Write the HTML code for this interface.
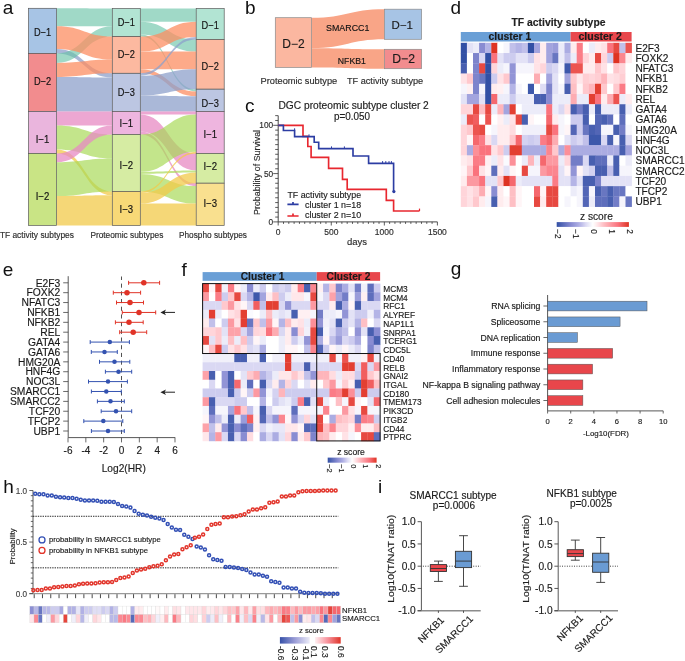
<!DOCTYPE html>
<html><head><meta charset="utf-8"><style>
html,body{margin:0;padding:0;background:#fff;width:685px;height:661px;overflow:hidden}
svg{display:block;will-change:transform}
svg text{stroke:#1a1a1a;stroke-width:0.15px}
</style></head><body>
<svg width="685" height="661" viewBox="0 0 685 661" shape-rendering="geometricPrecision">
<rect width="685" height="661" fill="#fff"/>
<path d="M56.5,49.0 C84.4,49.0 84.4,73.3 112.3,73.3 L112.3,77.5 C84.4,77.5 84.4,53.4 56.5,53.4 Z" fill="#8da0cb" fill-opacity="0.75"/>
<path d="M56.5,77.0 C84.4,77.0 84.4,77.5 112.3,77.5 L112.3,111.4 C84.4,111.4 84.4,111.4 56.5,111.4 Z" fill="#8da0cb" fill-opacity="0.75"/>
<path d="M56.5,8.3 C84.4,8.3 84.4,8.5 112.3,8.5 L112.3,26.3 C84.4,26.3 84.4,26.3 56.5,26.3 Z" fill="#66c2a5" fill-opacity="0.62"/>
<path d="M56.5,53.4 C84.4,53.4 84.4,26.3 112.3,26.3 L112.3,36.6 C84.4,36.6 84.4,63.0 56.5,63.0 Z" fill="#66c2a5" fill-opacity="0.62"/>
<path d="M56.5,26.3 C84.4,26.3 84.4,36.6 112.3,36.6 L112.3,59.6 C84.4,59.6 84.4,49.0 56.5,49.0 Z" fill="#fc8d62" fill-opacity="0.75"/>
<path d="M56.5,63.0 C84.4,63.0 84.4,59.6 112.3,59.6 L112.3,73.3 C84.4,73.3 84.4,77.0 56.5,77.0 Z" fill="#fc8d62" fill-opacity="0.75"/>
<path d="M56.5,111.4 C84.4,111.4 84.4,111.6 112.3,111.6 L112.3,125.4 C84.4,125.4 84.4,125.4 56.5,125.4 Z" fill="#e78ac3" fill-opacity="0.75"/>
<path d="M56.5,125.4 C84.4,125.4 84.4,134.4 112.3,134.4 L112.3,158.5 C84.4,158.5 84.4,149.5 56.5,149.5 Z" fill="#a6d854" fill-opacity="0.68"/>
<path d="M56.5,149.5 C84.4,149.5 84.4,191.4 112.3,191.4 L112.3,195.3 C84.4,195.3 84.4,153.4 56.5,153.4 Z" fill="#f2c94a" fill-opacity="0.75"/>
<path d="M56.5,153.4 C84.4,153.4 84.4,125.4 112.3,125.4 L112.3,134.4 C84.4,134.4 84.4,162.2 56.5,162.2 Z" fill="#e78ac3" fill-opacity="0.75"/>
<path d="M56.5,162.2 C84.4,162.2 84.4,158.5 112.3,158.5 L112.3,191.4 C84.4,191.4 84.4,196.0 56.5,196.0 Z" fill="#a6d854" fill-opacity="0.68"/>
<path d="M56.5,196.0 C84.4,196.0 84.4,195.3 112.3,195.3 L112.3,225.5 C84.4,225.5 84.4,225.4 56.5,225.4 Z" fill="#f2c94a" fill-opacity="0.75"/>
<path d="M140.3,8.5 C168.25,8.5 168.25,8.5 196.2,8.5 L196.2,21.7 C168.25,21.7 168.25,21.7 140.3,21.7 Z" fill="#66c2a5" fill-opacity="0.62"/>
<path d="M140.3,21.7 C168.25,21.7 168.25,39.5 196.2,39.5 L196.2,51.6 C168.25,51.6 168.25,34.4 140.3,34.4 Z" fill="#66c2a5" fill-opacity="0.62"/>
<path d="M140.3,34.4 C168.25,34.4 168.25,89.2 196.2,89.2 L196.2,91.5 C168.25,91.5 168.25,36.6 140.3,36.6 Z" fill="#66c2a5" fill-opacity="0.62"/>
<path d="M140.3,36.6 C168.25,36.6 168.25,21.7 196.2,21.7 L196.2,37.1 C168.25,37.1 168.25,51.6 140.3,51.6 Z" fill="#fc8d62" fill-opacity="0.75"/>
<path d="M140.3,51.6 C168.25,51.6 168.25,51.6 196.2,51.6 L196.2,69.2 C168.25,69.2 168.25,69.3 140.3,69.3 Z" fill="#fc8d62" fill-opacity="0.75"/>
<path d="M140.3,69.3 C168.25,69.3 168.25,91.5 196.2,91.5 L196.2,96.3 C168.25,96.3 168.25,73.3 140.3,73.3 Z" fill="#fc8d62" fill-opacity="0.75"/>
<path d="M140.3,73.3 C168.25,73.3 168.25,37.1 196.2,37.1 L196.2,39.5 C168.25,39.5 168.25,75.7 140.3,75.7 Z" fill="#8da0cb" fill-opacity="0.75"/>
<path d="M140.3,75.7 C168.25,75.7 168.25,69.2 196.2,69.2 L196.2,89.2 C168.25,89.2 168.25,95.5 140.3,95.5 Z" fill="#8da0cb" fill-opacity="0.75"/>
<path d="M140.3,95.5 C168.25,95.5 168.25,96.3 196.2,96.3 L196.2,111.6 C168.25,111.6 168.25,111.4 140.3,111.4 Z" fill="#8da0cb" fill-opacity="0.75"/>
<path d="M140.3,111.6 C168.25,111.6 168.25,111.6 196.2,111.6 L196.2,114.4 C168.25,114.4 168.25,114.4 140.3,114.4 Z" fill="#e78ac3" fill-opacity="0.75"/>
<path d="M140.3,114.4 C168.25,114.4 168.25,153.4 196.2,153.4 L196.2,170.5 C168.25,170.5 168.25,131.5 140.3,131.5 Z" fill="#e78ac3" fill-opacity="0.75"/>
<path d="M140.3,131.5 C168.25,131.5 168.25,183.2 196.2,183.2 L196.2,186.1 C168.25,186.1 168.25,134.4 140.3,134.4 Z" fill="#e78ac3" fill-opacity="0.75"/>
<path d="M140.3,134.4 C168.25,134.4 168.25,114.4 196.2,114.4 L196.2,151.8 C168.25,151.8 168.25,171.8 140.3,171.8 Z" fill="#a6d854" fill-opacity="0.68"/>
<path d="M140.3,171.8 C168.25,171.8 168.25,170.5 196.2,170.5 L196.2,172.6 C168.25,172.6 168.25,173.9 140.3,173.9 Z" fill="#a6d854" fill-opacity="0.68"/>
<path d="M140.3,173.9 C168.25,173.9 168.25,186.1 196.2,186.1 L196.2,203.6 C168.25,203.6 168.25,191.4 140.3,191.4 Z" fill="#a6d854" fill-opacity="0.68"/>
<path d="M140.3,191.4 C168.25,191.4 168.25,151.8 196.2,151.8 L196.2,153.4 C168.25,153.4 168.25,193.0 140.3,193.0 Z" fill="#f2c94a" fill-opacity="0.75"/>
<path d="M140.3,193.0 C168.25,193.0 168.25,172.6 196.2,172.6 L196.2,183.2 C168.25,183.2 168.25,203.7 140.3,203.7 Z" fill="#f2c94a" fill-opacity="0.75"/>
<path d="M140.3,203.7 C168.25,203.7 168.25,203.6 196.2,203.6 L196.2,225.5 C168.25,225.5 168.25,225.5 140.3,225.5 Z" fill="#f2c94a" fill-opacity="0.75"/>
<rect x="28.5" y="8.3" width="28.0" height="45.10" fill="#a7c4e5" stroke="#5a5a5a" stroke-width="0.7"/>
<text transform="translate(42.5,36.30) scale(1,1.13)" font-size="9.9" text-anchor="middle" fill="#111" stroke="#111" stroke-width="0.2" font-family="Liberation Sans" textLength="17.2" lengthAdjust="spacingAndGlyphs">D−1</text>
<rect x="28.5" y="53.4" width="28.0" height="58.00" fill="#f28c8e" stroke="#5a5a5a" stroke-width="0.7"/>
<text transform="translate(42.5,85.30) scale(1,1.13)" font-size="9.9" text-anchor="middle" fill="#111" stroke="#111" stroke-width="0.2" font-family="Liberation Sans" textLength="17.2" lengthAdjust="spacingAndGlyphs">D−2</text>
<rect x="28.5" y="111.4" width="28.0" height="42.00" fill="#eab5dd" stroke="#5a5a5a" stroke-width="0.7"/>
<text transform="translate(42.5,142.50) scale(1,1.13)" font-size="9.9" text-anchor="middle" fill="#111" stroke="#111" stroke-width="0.2" font-family="Liberation Sans" textLength="13.6" lengthAdjust="spacingAndGlyphs">I−1</text>
<rect x="28.5" y="153.4" width="28.0" height="72.00" fill="#c9e485" stroke="#5a5a5a" stroke-width="0.7"/>
<text transform="translate(42.5,199.90) scale(1,1.13)" font-size="9.9" text-anchor="middle" fill="#111" stroke="#111" stroke-width="0.2" font-family="Liberation Sans" textLength="13.6" lengthAdjust="spacingAndGlyphs">I−2</text>
<rect x="112.3" y="8.5" width="28.0" height="28.10" fill="#b2e4d3" stroke="#5a5a5a" stroke-width="0.7"/>
<text transform="translate(126.3,25.50) scale(1,1.13)" font-size="9.9" text-anchor="middle" fill="#111" stroke="#111" stroke-width="0.2" font-family="Liberation Sans" textLength="17.2" lengthAdjust="spacingAndGlyphs">D−1</text>
<rect x="112.3" y="36.6" width="28.0" height="36.70" fill="#fcb9a0" stroke="#5a5a5a" stroke-width="0.7"/>
<text transform="translate(126.3,58.40) scale(1,1.13)" font-size="9.9" text-anchor="middle" fill="#111" stroke="#111" stroke-width="0.2" font-family="Liberation Sans" textLength="17.2" lengthAdjust="spacingAndGlyphs">D−2</text>
<rect x="112.3" y="73.3" width="28.0" height="38.10" fill="#bcc6e2" stroke="#5a5a5a" stroke-width="0.7"/>
<text transform="translate(126.3,96.00) scale(1,1.13)" font-size="9.9" text-anchor="middle" fill="#111" stroke="#111" stroke-width="0.2" font-family="Liberation Sans" textLength="17.2" lengthAdjust="spacingAndGlyphs">D−3</text>
<rect x="112.3" y="111.4" width="28.0" height="23.00" fill="#eeb5df" stroke="#5a5a5a" stroke-width="0.7"/>
<text transform="translate(126.3,127.20) scale(1,1.13)" font-size="9.9" text-anchor="middle" fill="#111" stroke="#111" stroke-width="0.2" font-family="Liberation Sans" textLength="13.6" lengthAdjust="spacingAndGlyphs">I−1</text>
<rect x="112.3" y="134.4" width="28.0" height="57.00" fill="#d6eca3" stroke="#5a5a5a" stroke-width="0.7"/>
<text transform="translate(126.3,169.00) scale(1,1.13)" font-size="9.9" text-anchor="middle" fill="#111" stroke="#111" stroke-width="0.2" font-family="Liberation Sans" textLength="13.6" lengthAdjust="spacingAndGlyphs">I−2</text>
<rect x="112.3" y="191.4" width="28.0" height="34.10" fill="#f8d977" stroke="#5a5a5a" stroke-width="0.7"/>
<text transform="translate(126.3,213.10) scale(1,1.13)" font-size="9.9" text-anchor="middle" fill="#111" stroke="#111" stroke-width="0.2" font-family="Liberation Sans" textLength="13.6" lengthAdjust="spacingAndGlyphs">I−3</text>
<rect x="196.2" y="8.5" width="28.0" height="31.00" fill="#b2e4d3" stroke="#5a5a5a" stroke-width="0.7"/>
<text transform="translate(210.2,29.30) scale(1,1.13)" font-size="9.9" text-anchor="middle" fill="#111" stroke="#111" stroke-width="0.2" font-family="Liberation Sans" textLength="17.2" lengthAdjust="spacingAndGlyphs">D−1</text>
<rect x="196.2" y="39.5" width="28.0" height="49.70" fill="#fcb9a0" stroke="#5a5a5a" stroke-width="0.7"/>
<text transform="translate(210.2,70.10) scale(1,1.13)" font-size="9.9" text-anchor="middle" fill="#111" stroke="#111" stroke-width="0.2" font-family="Liberation Sans" textLength="17.2" lengthAdjust="spacingAndGlyphs">D−2</text>
<rect x="196.2" y="89.2" width="28.0" height="22.20" fill="#bcc6e2" stroke="#5a5a5a" stroke-width="0.7"/>
<text transform="translate(210.2,106.70) scale(1,1.13)" font-size="9.9" text-anchor="middle" fill="#111" stroke="#111" stroke-width="0.2" font-family="Liberation Sans" textLength="17.2" lengthAdjust="spacingAndGlyphs">D−3</text>
<rect x="196.2" y="111.4" width="28.0" height="42.00" fill="#eeb5df" stroke="#5a5a5a" stroke-width="0.7"/>
<text transform="translate(210.2,137.70) scale(1,1.13)" font-size="9.9" text-anchor="middle" fill="#111" stroke="#111" stroke-width="0.2" font-family="Liberation Sans" textLength="13.6" lengthAdjust="spacingAndGlyphs">I−1</text>
<rect x="196.2" y="153.4" width="28.0" height="29.80" fill="#d6eca3" stroke="#5a5a5a" stroke-width="0.7"/>
<text transform="translate(210.2,169.90) scale(1,1.13)" font-size="9.9" text-anchor="middle" fill="#111" stroke="#111" stroke-width="0.2" font-family="Liberation Sans" textLength="13.6" lengthAdjust="spacingAndGlyphs">I−2</text>
<rect x="196.2" y="183.2" width="28.0" height="42.30" fill="#f9e08f" stroke="#5a5a5a" stroke-width="0.7"/>
<text transform="translate(210.2,207.40) scale(1,1.13)" font-size="9.9" text-anchor="middle" fill="#111" stroke="#111" stroke-width="0.2" font-family="Liberation Sans" textLength="13.6" lengthAdjust="spacingAndGlyphs">I−3</text>
<text x="-0.1" y="238" font-size="8.4" fill="#333" font-family="Liberation Sans" textLength="74" lengthAdjust="spacingAndGlyphs">TF activity subtypes</text>
<text x="90.4" y="238" font-size="8.4" fill="#333" font-family="Liberation Sans" textLength="72.9" lengthAdjust="spacingAndGlyphs">Proteomic subtypes</text>
<text x="179" y="238" font-size="8.4" fill="#333" font-family="Liberation Sans" textLength="68" lengthAdjust="spacingAndGlyphs">Phospho subtypes</text>
<path d="M311.6,17.7 C348.1,17.7 348.1,9.2 384.6,9.2 L384.6,39.3 C348.1,39.3 348.1,48.2 311.6,48.2 Z" fill="#f9a587"/>
<path d="M311.6,48.2 C348.1,48.2 348.1,49.3 384.6,49.3 L384.6,68.7 C348.1,68.7 348.1,67.4 311.6,67.4 Z" fill="#f9a587"/>
<rect x="275.3" y="17.7" width="36.3" height="49.7" fill="#fbb7a0" stroke="#8a8a8a" stroke-width="0.7"/>
<rect x="384.6" y="9.2" width="37" height="30.1" fill="#a7c4e5" stroke="#8a8a8a" stroke-width="0.7"/>
<rect x="384.6" y="49.3" width="37" height="19.4" fill="#f28c8e" stroke="#8a8a8a" stroke-width="0.7"/>
<text x="293.5" y="47.9" font-size="12" text-anchor="middle" fill="#1a1a1a" font-family="Liberation Sans">D−2</text>
<text x="402.3" y="28.6" font-size="11.5" text-anchor="middle" fill="#1a1a1a" font-family="Liberation Sans">D−1</text>
<text x="403.6" y="62.7" font-size="12.2" text-anchor="middle" fill="#1a1a1a" font-family="Liberation Sans">D−2</text>
<text transform="translate(326.0,31.4) scale(1,1.1)" font-size="8.8" fill="#111" stroke="#111" stroke-width="0.12" font-family="Liberation Sans" textLength="43.4" lengthAdjust="spacingAndGlyphs">SMARCC1</text>
<text transform="translate(337.8,64.3) scale(1,1.1)" font-size="8.6" fill="#111" stroke="#111" stroke-width="0.12" font-family="Liberation Sans" textLength="28" lengthAdjust="spacingAndGlyphs">NFKB1</text>
<text x="260.6" y="84.3" font-size="9.2" fill="#333" font-family="Liberation Sans" textLength="76.6" lengthAdjust="spacingAndGlyphs">Proteomic subtype</text>
<text x="347.0" y="84.3" font-size="9.3" fill="#333" font-family="Liberation Sans" textLength="76.2" lengthAdjust="spacingAndGlyphs">TF activity subtype</text>
<text x="278.5" y="108.5" font-size="10" fill="#222" font-family="Liberation Sans" textLength="150.3" lengthAdjust="spacingAndGlyphs">DGC proteomic subtype cluster 2</text>
<text x="334" y="119.7" font-size="10" fill="#222" font-family="Liberation Sans" textLength="36" lengthAdjust="spacingAndGlyphs">p=0.050</text>
<path d="M278.2,115.64 V221.9 H437.40" fill="none" stroke="#333" stroke-width="0.9"/>
<path d="M273.2,221.90 H278.2 M275.2,217.07 H278.2 M275.2,212.24 H278.2 M275.2,207.41 H278.2 M275.2,202.58 H278.2 M275.2,197.75 H278.2 M275.2,192.92 H278.2 M275.2,188.09 H278.2 M275.2,183.26 H278.2 M275.2,178.43 H278.2 M273.2,173.60 H278.2 M275.2,168.77 H278.2 M275.2,163.94 H278.2 M275.2,159.11 H278.2 M275.2,154.28 H278.2 M275.2,149.45 H278.2 M275.2,144.62 H278.2 M275.2,139.79 H278.2 M275.2,134.96 H278.2 M275.2,130.13 H278.2 M273.2,125.30 H278.2 M275.2,120.47 H278.2 M275.2,115.64 H278.2 M278.20,221.9 V225.5 M283.51,221.9 V223.9 M288.81,221.9 V223.9 M294.12,221.9 V223.9 M299.43,221.9 V223.9 M304.73,221.9 V223.9 M310.04,221.9 V223.9 M315.35,221.9 V223.9 M320.65,221.9 V223.9 M325.96,221.9 V223.9 M331.27,221.9 V225.5 M336.57,221.9 V223.9 M341.88,221.9 V223.9 M347.19,221.9 V223.9 M352.49,221.9 V223.9 M357.80,221.9 V223.9 M363.11,221.9 V223.9 M368.41,221.9 V223.9 M373.72,221.9 V223.9 M379.03,221.9 V223.9 M384.33,221.9 V225.5 M389.64,221.9 V223.9 M394.95,221.9 V223.9 M400.25,221.9 V223.9 M405.56,221.9 V223.9 M410.87,221.9 V223.9 M416.17,221.9 V223.9 M421.48,221.9 V223.9 M426.79,221.9 V223.9 M432.09,221.9 V223.9 M437.40,221.9 V225.5" stroke="#333" stroke-width="0.8" fill="none"/>
<text x="273.2" y="128.30" font-size="8.3" text-anchor="end" fill="#333" font-family="Liberation Sans">100</text>
<text x="273.2" y="176.60" font-size="8.3" text-anchor="end" fill="#333" font-family="Liberation Sans">50</text>
<text x="273.2" y="224.90" font-size="8.3" text-anchor="end" fill="#333" font-family="Liberation Sans">0</text>
<text x="278.20" y="235.4" font-size="8.5" text-anchor="middle" fill="#333" font-family="Liberation Sans">0</text>
<text x="331.27" y="235.4" font-size="8.5" text-anchor="middle" fill="#333" font-family="Liberation Sans">500</text>
<text x="384.33" y="235.4" font-size="8.5" text-anchor="middle" fill="#333" font-family="Liberation Sans">1000</text>
<text x="437.40" y="235.4" font-size="8.5" text-anchor="middle" fill="#333" font-family="Liberation Sans">1500</text>
<text x="357.1" y="244.8" font-size="9.5" text-anchor="middle" fill="#333" font-family="Liberation Sans">days</text>
<text transform="translate(260.4,172.4) rotate(-90)" x="0" y="0" font-size="9.1" text-anchor="middle" fill="#333" font-family="Liberation Sans" textLength="85" lengthAdjust="spacingAndGlyphs">Probability of Survival</text>
<path d="M278.2,125.3 H303 V136.3 H307.8 V146.5 H311.1 V157.4 H328.6 V168.4 H342.5 V179.4 H347.2 V189.4 H386.3 V200.4 H393.6 V211 H419.5" fill="none" stroke="#e8272f" stroke-width="1.65"/>
<path d="M278.2,125.3 H283.4 V130.5 H294.6 V136.6 H314.2 V142.2 H318.7 V148.6 H353 V156 H368.6 V163.3 H393.6 V191.9" fill="none" stroke="#2c3da3" stroke-width="1.65"/>
<path d="M294.6,130.5 V128.3 M309,136.6 V134.4 M331.5,148.6 V146.4 M344.4,148.6 V146.4 M382.6,163.3 V161.10000000000002 M385.8,163.3 V161.10000000000002 M389,163.3 V161.10000000000002 M391.4,163.3 V161.10000000000002" stroke="#2c3da3" stroke-width="1" fill="none"/>
<circle cx="393.9" cy="191.6" r="1.6" fill="#2c3da3"/>
<path d="M419.5,211 V208.6" stroke="#e8272f" stroke-width="1.2" fill="none"/>
<text x="287.4" y="197.5" font-size="9.6" fill="#222" font-family="Liberation Sans" textLength="73.7" lengthAdjust="spacingAndGlyphs">TF activity subtype</text>
<path d="M287.4,204.4 H298.6 M293,204.4 V202" stroke="#2c3da3" stroke-width="1.7"/>
<path d="M287.4,216.0 H298.6 M293,216.0 V213.6" stroke="#e8272f" stroke-width="1.7"/>
<text x="305" y="207.7" font-size="9.6" fill="#222" font-family="Liberation Sans" textLength="56.1" lengthAdjust="spacingAndGlyphs">cluster 1 n=18</text>
<text x="305" y="218.3" font-size="9.6" fill="#222" font-family="Liberation Sans" textLength="56.1" lengthAdjust="spacingAndGlyphs">cluster 2 n=10</text>
<text x="558.5" y="25.5" font-size="10.2" font-weight="bold" text-anchor="middle" fill="#222" font-family="Liberation Sans" textLength="94" lengthAdjust="spacingAndGlyphs">TF activity subtype</text>
<rect x="460.8" y="32" width="109.8" height="9.5" fill="#6a9fd6"/>
<rect x="570.6" y="32" width="61.0" height="9.5" fill="#e8474c"/>
<text x="509.9" y="39.8" font-size="10" font-weight="bold" text-anchor="middle" fill="#1a1a1a" font-family="Liberation Sans" textLength="42.6" lengthAdjust="spacingAndGlyphs">cluster 1</text>
<text x="600.1" y="39.8" font-size="10" font-weight="bold" text-anchor="middle" fill="#1a1a1a" font-family="Liberation Sans" textLength="43.3" lengthAdjust="spacingAndGlyphs">cluster 2</text>
<rect x="460.80" y="42.80" width="6.40" height="10.54" fill="#3250a5"/>
<rect x="466.90" y="42.80" width="6.40" height="10.54" fill="#e3e2f6"/>
<rect x="473.00" y="42.80" width="6.40" height="10.54" fill="#ececf9"/>
<rect x="479.10" y="42.80" width="6.40" height="10.54" fill="#898cd2"/>
<rect x="485.20" y="42.80" width="6.40" height="10.54" fill="#b4b4e6"/>
<rect x="491.30" y="42.80" width="6.40" height="10.54" fill="#de3423"/>
<rect x="497.40" y="42.80" width="6.40" height="10.54" fill="#ffffff"/>
<rect x="503.50" y="42.80" width="6.40" height="10.54" fill="#f6f5fc"/>
<rect x="509.60" y="42.80" width="6.40" height="10.54" fill="#c1c0ea"/>
<rect x="515.70" y="42.80" width="6.40" height="10.54" fill="#b4b4e6"/>
<rect x="521.80" y="42.80" width="6.40" height="10.54" fill="#c1c0ea"/>
<rect x="527.90" y="42.80" width="6.40" height="10.54" fill="#3250a5"/>
<rect x="534.00" y="42.80" width="6.40" height="10.54" fill="#a3a4de"/>
<rect x="540.10" y="42.80" width="6.40" height="10.54" fill="#ffecee"/>
<rect x="546.20" y="42.80" width="6.40" height="10.54" fill="#a3a4de"/>
<rect x="552.30" y="42.80" width="6.40" height="10.54" fill="#9a9cda"/>
<rect x="558.40" y="42.80" width="6.40" height="10.54" fill="#ececf9"/>
<rect x="564.50" y="42.80" width="6.40" height="10.54" fill="#abace2"/>
<rect x="570.60" y="42.80" width="6.40" height="10.54" fill="#ffecee"/>
<rect x="576.70" y="42.80" width="6.40" height="10.54" fill="#fb7c86"/>
<rect x="582.80" y="42.80" width="6.40" height="10.54" fill="#ffffff"/>
<rect x="588.90" y="42.80" width="6.40" height="10.54" fill="#ececf9"/>
<rect x="595.00" y="42.80" width="6.40" height="10.54" fill="#ffecee"/>
<rect x="601.10" y="42.80" width="6.40" height="10.54" fill="#ffe2e6"/>
<rect x="607.20" y="42.80" width="6.40" height="10.54" fill="#fa737d"/>
<rect x="613.30" y="42.80" width="6.40" height="10.54" fill="#e74941"/>
<rect x="619.40" y="42.80" width="6.40" height="10.54" fill="#c1c0ea"/>
<rect x="625.50" y="42.80" width="6.40" height="10.54" fill="#ec5450"/>
<text transform="translate(635.4,51.72) scale(1,1.08)" font-size="10.1" fill="#1a1a1a" font-family="Liberation Sans">E2F3</text>
<rect x="460.80" y="53.04" width="6.40" height="10.54" fill="#3250a5"/>
<rect x="466.90" y="53.04" width="6.40" height="10.54" fill="#ffffff"/>
<rect x="473.00" y="53.04" width="6.40" height="10.54" fill="#7e84cc"/>
<rect x="479.10" y="53.04" width="6.40" height="10.54" fill="#dad8f3"/>
<rect x="485.20" y="53.04" width="6.40" height="10.54" fill="#3250a5"/>
<rect x="491.30" y="53.04" width="6.40" height="10.54" fill="#fa737d"/>
<rect x="497.40" y="53.04" width="6.40" height="10.54" fill="#e3e2f6"/>
<rect x="503.50" y="53.04" width="6.40" height="10.54" fill="#cdccef"/>
<rect x="509.60" y="53.04" width="6.40" height="10.54" fill="#cdccef"/>
<rect x="515.70" y="53.04" width="6.40" height="10.54" fill="#e3e2f6"/>
<rect x="521.80" y="53.04" width="6.40" height="10.54" fill="#e3e2f6"/>
<rect x="527.90" y="53.04" width="6.40" height="10.54" fill="#cdccef"/>
<rect x="534.00" y="53.04" width="6.40" height="10.54" fill="#ffe2e6"/>
<rect x="540.10" y="53.04" width="6.40" height="10.54" fill="#ffecee"/>
<rect x="546.20" y="53.04" width="6.40" height="10.54" fill="#a3a4de"/>
<rect x="552.30" y="53.04" width="6.40" height="10.54" fill="#6876c1"/>
<rect x="558.40" y="53.04" width="6.40" height="10.54" fill="#ececf9"/>
<rect x="564.50" y="53.04" width="6.40" height="10.54" fill="#c1c0ea"/>
<rect x="570.60" y="53.04" width="6.40" height="10.54" fill="#ececf9"/>
<rect x="576.70" y="53.04" width="6.40" height="10.54" fill="#fb7c86"/>
<rect x="582.80" y="53.04" width="6.40" height="10.54" fill="#ffd5da"/>
<rect x="588.90" y="53.04" width="6.40" height="10.54" fill="#ffecee"/>
<rect x="595.00" y="53.04" width="6.40" height="10.54" fill="#e74941"/>
<rect x="601.10" y="53.04" width="6.40" height="10.54" fill="#ffd5da"/>
<rect x="607.20" y="53.04" width="6.40" height="10.54" fill="#cdccef"/>
<rect x="613.30" y="53.04" width="6.40" height="10.54" fill="#de3423"/>
<rect x="619.40" y="53.04" width="6.40" height="10.54" fill="#fb868f"/>
<rect x="625.50" y="53.04" width="6.40" height="10.54" fill="#ffecee"/>
<text transform="translate(635.4,61.96) scale(1,1.08)" font-size="10.1" fill="#1a1a1a" font-family="Liberation Sans">FOXK2</text>
<rect x="460.80" y="63.28" width="6.40" height="10.54" fill="#485fb0"/>
<rect x="466.90" y="63.28" width="6.40" height="10.54" fill="#ffffff"/>
<rect x="473.00" y="63.28" width="6.40" height="10.54" fill="#7e84cc"/>
<rect x="479.10" y="63.28" width="6.40" height="10.54" fill="#e74941"/>
<rect x="485.20" y="63.28" width="6.40" height="10.54" fill="#3250a5"/>
<rect x="491.30" y="63.28" width="6.40" height="10.54" fill="#ffd5da"/>
<rect x="497.40" y="63.28" width="6.40" height="10.54" fill="#ececf9"/>
<rect x="503.50" y="63.28" width="6.40" height="10.54" fill="#f6f5fc"/>
<rect x="509.60" y="63.28" width="6.40" height="10.54" fill="#9294d6"/>
<rect x="515.70" y="63.28" width="6.40" height="10.54" fill="#f6f5fc"/>
<rect x="521.80" y="63.28" width="6.40" height="10.54" fill="#f6f5fc"/>
<rect x="527.90" y="63.28" width="6.40" height="10.54" fill="#f6f5fc"/>
<rect x="534.00" y="63.28" width="6.40" height="10.54" fill="#ffe2e6"/>
<rect x="540.10" y="63.28" width="6.40" height="10.54" fill="#ffd5da"/>
<rect x="546.20" y="63.28" width="6.40" height="10.54" fill="#cdccef"/>
<rect x="552.30" y="63.28" width="6.40" height="10.54" fill="#dad8f3"/>
<rect x="558.40" y="63.28" width="6.40" height="10.54" fill="#f6f5fc"/>
<rect x="564.50" y="63.28" width="6.40" height="10.54" fill="#3d58ab"/>
<rect x="570.60" y="63.28" width="6.40" height="10.54" fill="#ec5450"/>
<rect x="576.70" y="63.28" width="6.40" height="10.54" fill="#ec5450"/>
<rect x="582.80" y="63.28" width="6.40" height="10.54" fill="#ffecee"/>
<rect x="588.90" y="63.28" width="6.40" height="10.54" fill="#ffecee"/>
<rect x="595.00" y="63.28" width="6.40" height="10.54" fill="#ffc8cd"/>
<rect x="601.10" y="63.28" width="6.40" height="10.54" fill="#ffe2e6"/>
<rect x="607.20" y="63.28" width="6.40" height="10.54" fill="#ffffff"/>
<rect x="613.30" y="63.28" width="6.40" height="10.54" fill="#ffc8cd"/>
<rect x="619.40" y="63.28" width="6.40" height="10.54" fill="#ffd5da"/>
<rect x="625.50" y="63.28" width="6.40" height="10.54" fill="#ffffff"/>
<text transform="translate(635.4,72.20) scale(1,1.08)" font-size="10.1" fill="#1a1a1a" font-family="Liberation Sans">NFATC3</text>
<rect x="460.80" y="73.52" width="6.40" height="10.54" fill="#ffe2e6"/>
<rect x="466.90" y="73.52" width="6.40" height="10.54" fill="#ffc8cd"/>
<rect x="473.00" y="73.52" width="6.40" height="10.54" fill="#7e84cc"/>
<rect x="479.10" y="73.52" width="6.40" height="10.54" fill="#6876c1"/>
<rect x="485.20" y="73.52" width="6.40" height="10.54" fill="#3250a5"/>
<rect x="491.30" y="73.52" width="6.40" height="10.54" fill="#cdccef"/>
<rect x="497.40" y="73.52" width="6.40" height="10.54" fill="#ffe2e6"/>
<rect x="503.50" y="73.52" width="6.40" height="10.54" fill="#ffc8cd"/>
<rect x="509.60" y="73.52" width="6.40" height="10.54" fill="#9294d6"/>
<rect x="515.70" y="73.52" width="6.40" height="10.54" fill="#ffffff"/>
<rect x="521.80" y="73.52" width="6.40" height="10.54" fill="#ffffff"/>
<rect x="527.90" y="73.52" width="6.40" height="10.54" fill="#ffffff"/>
<rect x="534.00" y="73.52" width="6.40" height="10.54" fill="#fdacb2"/>
<rect x="540.10" y="73.52" width="6.40" height="10.54" fill="#ffffff"/>
<rect x="546.20" y="73.52" width="6.40" height="10.54" fill="#a3a4de"/>
<rect x="552.30" y="73.52" width="6.40" height="10.54" fill="#e3e2f6"/>
<rect x="558.40" y="73.52" width="6.40" height="10.54" fill="#ffffff"/>
<rect x="564.50" y="73.52" width="6.40" height="10.54" fill="#a3a4de"/>
<rect x="570.60" y="73.52" width="6.40" height="10.54" fill="#ffc8cd"/>
<rect x="576.70" y="73.52" width="6.40" height="10.54" fill="#ffe7ea"/>
<rect x="582.80" y="73.52" width="6.40" height="10.54" fill="#ffced3"/>
<rect x="588.90" y="73.52" width="6.40" height="10.54" fill="#ffd5da"/>
<rect x="595.00" y="73.52" width="6.40" height="10.54" fill="#ffced3"/>
<rect x="601.10" y="73.52" width="6.40" height="10.54" fill="#feb5bb"/>
<rect x="607.20" y="73.52" width="6.40" height="10.54" fill="#ffe2e6"/>
<rect x="613.30" y="73.52" width="6.40" height="10.54" fill="#ffdce0"/>
<rect x="619.40" y="73.52" width="6.40" height="10.54" fill="#ffced3"/>
<rect x="625.50" y="73.52" width="6.40" height="10.54" fill="#ffffff"/>
<text transform="translate(635.4,82.44) scale(1,1.08)" font-size="10.1" fill="#1a1a1a" font-family="Liberation Sans">NFKB1</text>
<rect x="460.80" y="83.76" width="6.40" height="10.54" fill="#f6f5fc"/>
<rect x="466.90" y="83.76" width="6.40" height="10.54" fill="#fff0f2"/>
<rect x="473.00" y="83.76" width="6.40" height="10.54" fill="#7e84cc"/>
<rect x="479.10" y="83.76" width="6.40" height="10.54" fill="#f6f5fc"/>
<rect x="485.20" y="83.76" width="6.40" height="10.54" fill="#3250a5"/>
<rect x="491.30" y="83.76" width="6.40" height="10.54" fill="#ffecee"/>
<rect x="497.40" y="83.76" width="6.40" height="10.54" fill="#fff0f2"/>
<rect x="503.50" y="83.76" width="6.40" height="10.54" fill="#f6f5fc"/>
<rect x="509.60" y="83.76" width="6.40" height="10.54" fill="#b4b4e6"/>
<rect x="515.70" y="83.76" width="6.40" height="10.54" fill="#f6f5fc"/>
<rect x="521.80" y="83.76" width="6.40" height="10.54" fill="#ffffff"/>
<rect x="527.90" y="83.76" width="6.40" height="10.54" fill="#3d58ab"/>
<rect x="534.00" y="83.76" width="6.40" height="10.54" fill="#ffffff"/>
<rect x="540.10" y="83.76" width="6.40" height="10.54" fill="#dfddf4"/>
<rect x="546.20" y="83.76" width="6.40" height="10.54" fill="#7e84cc"/>
<rect x="552.30" y="83.76" width="6.40" height="10.54" fill="#e3e2f6"/>
<rect x="558.40" y="83.76" width="6.40" height="10.54" fill="#f6f5fc"/>
<rect x="564.50" y="83.76" width="6.40" height="10.54" fill="#485fb0"/>
<rect x="570.60" y="83.76" width="6.40" height="10.54" fill="#febfc4"/>
<rect x="576.70" y="83.76" width="6.40" height="10.54" fill="#fff5f7"/>
<rect x="582.80" y="83.76" width="6.40" height="10.54" fill="#ffc8cd"/>
<rect x="588.90" y="83.76" width="6.40" height="10.54" fill="#feb5bb"/>
<rect x="595.00" y="83.76" width="6.40" height="10.54" fill="#e33f32"/>
<rect x="601.10" y="83.76" width="6.40" height="10.54" fill="#ffc8cd"/>
<rect x="607.20" y="83.76" width="6.40" height="10.54" fill="#ffffff"/>
<rect x="613.30" y="83.76" width="6.40" height="10.54" fill="#ffc8cd"/>
<rect x="619.40" y="83.76" width="6.40" height="10.54" fill="#fb7c86"/>
<rect x="625.50" y="83.76" width="6.40" height="10.54" fill="#ffffff"/>
<text transform="translate(635.4,92.68) scale(1,1.08)" font-size="10.1" fill="#1a1a1a" font-family="Liberation Sans">NFKB2</text>
<rect x="460.80" y="94.00" width="6.40" height="10.54" fill="#e3e2f6"/>
<rect x="466.90" y="94.00" width="6.40" height="10.54" fill="#a3a4de"/>
<rect x="473.00" y="94.00" width="6.40" height="10.54" fill="#a3a4de"/>
<rect x="479.10" y="94.00" width="6.40" height="10.54" fill="#e3e2f6"/>
<rect x="485.20" y="94.00" width="6.40" height="10.54" fill="#3250a5"/>
<rect x="491.30" y="94.00" width="6.40" height="10.54" fill="#f5686e"/>
<rect x="497.40" y="94.00" width="6.40" height="10.54" fill="#ececf9"/>
<rect x="503.50" y="94.00" width="6.40" height="10.54" fill="#ececf9"/>
<rect x="509.60" y="94.00" width="6.40" height="10.54" fill="#cdccef"/>
<rect x="515.70" y="94.00" width="6.40" height="10.54" fill="#ececf9"/>
<rect x="521.80" y="94.00" width="6.40" height="10.54" fill="#ececf9"/>
<rect x="527.90" y="94.00" width="6.40" height="10.54" fill="#ececf9"/>
<rect x="534.00" y="94.00" width="6.40" height="10.54" fill="#485fb0"/>
<rect x="540.10" y="94.00" width="6.40" height="10.54" fill="#485fb0"/>
<rect x="546.20" y="94.00" width="6.40" height="10.54" fill="#898cd2"/>
<rect x="552.30" y="94.00" width="6.40" height="10.54" fill="#ececf9"/>
<rect x="558.40" y="94.00" width="6.40" height="10.54" fill="#ececf9"/>
<rect x="564.50" y="94.00" width="6.40" height="10.54" fill="#ececf9"/>
<rect x="570.60" y="94.00" width="6.40" height="10.54" fill="#fdacb2"/>
<rect x="576.70" y="94.00" width="6.40" height="10.54" fill="#ececf9"/>
<rect x="582.80" y="94.00" width="6.40" height="10.54" fill="#ececf9"/>
<rect x="588.90" y="94.00" width="6.40" height="10.54" fill="#e33f32"/>
<rect x="595.00" y="94.00" width="6.40" height="10.54" fill="#fa737d"/>
<rect x="601.10" y="94.00" width="6.40" height="10.54" fill="#ffecee"/>
<rect x="607.20" y="94.00" width="6.40" height="10.54" fill="#fdacb2"/>
<rect x="613.30" y="94.00" width="6.40" height="10.54" fill="#ec5450"/>
<rect x="619.40" y="94.00" width="6.40" height="10.54" fill="#ececf9"/>
<rect x="625.50" y="94.00" width="6.40" height="10.54" fill="#ffecee"/>
<text transform="translate(635.4,102.92) scale(1,1.08)" font-size="10.1" fill="#1a1a1a" font-family="Liberation Sans">REL</text>
<rect x="460.80" y="104.24" width="6.40" height="10.54" fill="#ffd5da"/>
<rect x="466.90" y="104.24" width="6.40" height="10.54" fill="#ffd5da"/>
<rect x="473.00" y="104.24" width="6.40" height="10.54" fill="#e74941"/>
<rect x="479.10" y="104.24" width="6.40" height="10.54" fill="#febfc4"/>
<rect x="485.20" y="104.24" width="6.40" height="10.54" fill="#e74941"/>
<rect x="491.30" y="104.24" width="6.40" height="10.54" fill="#ececf9"/>
<rect x="497.40" y="104.24" width="6.40" height="10.54" fill="#feb5bb"/>
<rect x="503.50" y="104.24" width="6.40" height="10.54" fill="#a3a4de"/>
<rect x="509.60" y="104.24" width="6.40" height="10.54" fill="#e33f32"/>
<rect x="515.70" y="104.24" width="6.40" height="10.54" fill="#ffffff"/>
<rect x="521.80" y="104.24" width="6.40" height="10.54" fill="#ececf9"/>
<rect x="527.90" y="104.24" width="6.40" height="10.54" fill="#ececf9"/>
<rect x="534.00" y="104.24" width="6.40" height="10.54" fill="#ececf9"/>
<rect x="540.10" y="104.24" width="6.40" height="10.54" fill="#ececf9"/>
<rect x="546.20" y="104.24" width="6.40" height="10.54" fill="#fa737d"/>
<rect x="552.30" y="104.24" width="6.40" height="10.54" fill="#ececf9"/>
<rect x="558.40" y="104.24" width="6.40" height="10.54" fill="#dad8f3"/>
<rect x="564.50" y="104.24" width="6.40" height="10.54" fill="#ffe2e6"/>
<rect x="570.60" y="104.24" width="6.40" height="10.54" fill="#485fb0"/>
<rect x="576.70" y="104.24" width="6.40" height="10.54" fill="#737dc7"/>
<rect x="582.80" y="104.24" width="6.40" height="10.54" fill="#485fb0"/>
<rect x="588.90" y="104.24" width="6.40" height="10.54" fill="#ececf9"/>
<rect x="595.00" y="104.24" width="6.40" height="10.54" fill="#485fb0"/>
<rect x="601.10" y="104.24" width="6.40" height="10.54" fill="#ececf9"/>
<rect x="607.20" y="104.24" width="6.40" height="10.54" fill="#ececf9"/>
<rect x="613.30" y="104.24" width="6.40" height="10.54" fill="#ececf9"/>
<rect x="619.40" y="104.24" width="6.40" height="10.54" fill="#485fb0"/>
<rect x="625.50" y="104.24" width="6.40" height="10.54" fill="#ececf9"/>
<text transform="translate(635.4,113.16) scale(1,1.08)" font-size="10.1" fill="#1a1a1a" font-family="Liberation Sans">GATA4</text>
<rect x="460.80" y="114.48" width="6.40" height="10.54" fill="#ececf9"/>
<rect x="466.90" y="114.48" width="6.40" height="10.54" fill="#ec5450"/>
<rect x="473.00" y="114.48" width="6.40" height="10.54" fill="#f15e5f"/>
<rect x="479.10" y="114.48" width="6.40" height="10.54" fill="#ffffff"/>
<rect x="485.20" y="114.48" width="6.40" height="10.54" fill="#ec5450"/>
<rect x="491.30" y="114.48" width="6.40" height="10.54" fill="#ffffff"/>
<rect x="497.40" y="114.48" width="6.40" height="10.54" fill="#fff0f2"/>
<rect x="503.50" y="114.48" width="6.40" height="10.54" fill="#ececf9"/>
<rect x="509.60" y="114.48" width="6.40" height="10.54" fill="#ffe2e6"/>
<rect x="515.70" y="114.48" width="6.40" height="10.54" fill="#e74941"/>
<rect x="521.80" y="114.48" width="6.40" height="10.54" fill="#485fb0"/>
<rect x="527.90" y="114.48" width="6.40" height="10.54" fill="#fff5f7"/>
<rect x="534.00" y="114.48" width="6.40" height="10.54" fill="#ffffff"/>
<rect x="540.10" y="114.48" width="6.40" height="10.54" fill="#ffffff"/>
<rect x="546.20" y="114.48" width="6.40" height="10.54" fill="#f5686e"/>
<rect x="552.30" y="114.48" width="6.40" height="10.54" fill="#ffecee"/>
<rect x="558.40" y="114.48" width="6.40" height="10.54" fill="#f6f5fc"/>
<rect x="564.50" y="114.48" width="6.40" height="10.54" fill="#ffffff"/>
<rect x="570.60" y="114.48" width="6.40" height="10.54" fill="#cdccef"/>
<rect x="576.70" y="114.48" width="6.40" height="10.54" fill="#cdccef"/>
<rect x="582.80" y="114.48" width="6.40" height="10.54" fill="#485fb0"/>
<rect x="588.90" y="114.48" width="6.40" height="10.54" fill="#ffffff"/>
<rect x="595.00" y="114.48" width="6.40" height="10.54" fill="#5366b6"/>
<rect x="601.10" y="114.48" width="6.40" height="10.54" fill="#485fb0"/>
<rect x="607.20" y="114.48" width="6.40" height="10.54" fill="#5e6ebc"/>
<rect x="613.30" y="114.48" width="6.40" height="10.54" fill="#ffffff"/>
<rect x="619.40" y="114.48" width="6.40" height="10.54" fill="#5e6ebc"/>
<rect x="625.50" y="114.48" width="6.40" height="10.54" fill="#ffffff"/>
<text transform="translate(635.4,123.40) scale(1,1.08)" font-size="10.1" fill="#1a1a1a" font-family="Liberation Sans">GATA6</text>
<rect x="460.80" y="124.72" width="6.40" height="10.54" fill="#ffd5da"/>
<rect x="466.90" y="124.72" width="6.40" height="10.54" fill="#ffc8cd"/>
<rect x="473.00" y="124.72" width="6.40" height="10.54" fill="#ec5450"/>
<rect x="479.10" y="124.72" width="6.40" height="10.54" fill="#e74941"/>
<rect x="485.20" y="124.72" width="6.40" height="10.54" fill="#ffffff"/>
<rect x="491.30" y="124.72" width="6.40" height="10.54" fill="#f6f5fc"/>
<rect x="497.40" y="124.72" width="6.40" height="10.54" fill="#ffecee"/>
<rect x="503.50" y="124.72" width="6.40" height="10.54" fill="#ffecee"/>
<rect x="509.60" y="124.72" width="6.40" height="10.54" fill="#ffdce0"/>
<rect x="515.70" y="124.72" width="6.40" height="10.54" fill="#ffffff"/>
<rect x="521.80" y="124.72" width="6.40" height="10.54" fill="#f1f0fa"/>
<rect x="527.90" y="124.72" width="6.40" height="10.54" fill="#f1f0fa"/>
<rect x="534.00" y="124.72" width="6.40" height="10.54" fill="#f1f0fa"/>
<rect x="540.10" y="124.72" width="6.40" height="10.54" fill="#f1f0fa"/>
<rect x="546.20" y="124.72" width="6.40" height="10.54" fill="#e74941"/>
<rect x="552.30" y="124.72" width="6.40" height="10.54" fill="#fa737d"/>
<rect x="558.40" y="124.72" width="6.40" height="10.54" fill="#f6f5fc"/>
<rect x="564.50" y="124.72" width="6.40" height="10.54" fill="#fff5f7"/>
<rect x="570.60" y="124.72" width="6.40" height="10.54" fill="#5366b6"/>
<rect x="576.70" y="124.72" width="6.40" height="10.54" fill="#cdccef"/>
<rect x="582.80" y="124.72" width="6.40" height="10.54" fill="#6876c1"/>
<rect x="588.90" y="124.72" width="6.40" height="10.54" fill="#485fb0"/>
<rect x="595.00" y="124.72" width="6.40" height="10.54" fill="#5366b6"/>
<rect x="601.10" y="124.72" width="6.40" height="10.54" fill="#f6f5fc"/>
<rect x="607.20" y="124.72" width="6.40" height="10.54" fill="#f6f5fc"/>
<rect x="613.30" y="124.72" width="6.40" height="10.54" fill="#485fb0"/>
<rect x="619.40" y="124.72" width="6.40" height="10.54" fill="#737dc7"/>
<rect x="625.50" y="124.72" width="6.40" height="10.54" fill="#f6f5fc"/>
<text transform="translate(635.4,133.64) scale(1,1.08)" font-size="10.1" fill="#1a1a1a" font-family="Liberation Sans">HMG20A</text>
<rect x="460.80" y="134.96" width="6.40" height="10.54" fill="#ffd5da"/>
<rect x="466.90" y="134.96" width="6.40" height="10.54" fill="#fff5f7"/>
<rect x="473.00" y="134.96" width="6.40" height="10.54" fill="#f5686e"/>
<rect x="479.10" y="134.96" width="6.40" height="10.54" fill="#fb7c86"/>
<rect x="485.20" y="134.96" width="6.40" height="10.54" fill="#ffe2e6"/>
<rect x="491.30" y="134.96" width="6.40" height="10.54" fill="#dad8f3"/>
<rect x="497.40" y="134.96" width="6.40" height="10.54" fill="#ffecee"/>
<rect x="503.50" y="134.96" width="6.40" height="10.54" fill="#ffecee"/>
<rect x="509.60" y="134.96" width="6.40" height="10.54" fill="#ffc8cd"/>
<rect x="515.70" y="134.96" width="6.40" height="10.54" fill="#f5686e"/>
<rect x="521.80" y="134.96" width="6.40" height="10.54" fill="#d4d2f1"/>
<rect x="527.90" y="134.96" width="6.40" height="10.54" fill="#cdccef"/>
<rect x="534.00" y="134.96" width="6.40" height="10.54" fill="#d4d2f1"/>
<rect x="540.10" y="134.96" width="6.40" height="10.54" fill="#fb7c86"/>
<rect x="546.20" y="134.96" width="6.40" height="10.54" fill="#f5686e"/>
<rect x="552.30" y="134.96" width="6.40" height="10.54" fill="#fdacb2"/>
<rect x="558.40" y="134.96" width="6.40" height="10.54" fill="#ffffff"/>
<rect x="564.50" y="134.96" width="6.40" height="10.54" fill="#e3e2f6"/>
<rect x="570.60" y="134.96" width="6.40" height="10.54" fill="#cdccef"/>
<rect x="576.70" y="134.96" width="6.40" height="10.54" fill="#dad8f3"/>
<rect x="582.80" y="134.96" width="6.40" height="10.54" fill="#c1c0ea"/>
<rect x="588.90" y="134.96" width="6.40" height="10.54" fill="#3d58ab"/>
<rect x="595.00" y="134.96" width="6.40" height="10.54" fill="#3d58ab"/>
<rect x="601.10" y="134.96" width="6.40" height="10.54" fill="#dad8f3"/>
<rect x="607.20" y="134.96" width="6.40" height="10.54" fill="#485fb0"/>
<rect x="613.30" y="134.96" width="6.40" height="10.54" fill="#f6f5fc"/>
<rect x="619.40" y="134.96" width="6.40" height="10.54" fill="#485fb0"/>
<rect x="625.50" y="134.96" width="6.40" height="10.54" fill="#dad8f3"/>
<text transform="translate(635.4,143.88) scale(1,1.08)" font-size="10.1" fill="#1a1a1a" font-family="Liberation Sans">HNF4G</text>
<rect x="460.80" y="145.20" width="6.40" height="10.54" fill="#ffd5da"/>
<rect x="466.90" y="145.20" width="6.40" height="10.54" fill="#abace2"/>
<rect x="473.00" y="145.20" width="6.40" height="10.54" fill="#fc8f98"/>
<rect x="479.10" y="145.20" width="6.40" height="10.54" fill="#fa737d"/>
<rect x="485.20" y="145.20" width="6.40" height="10.54" fill="#fa737d"/>
<rect x="491.30" y="145.20" width="6.40" height="10.54" fill="#ffe2e6"/>
<rect x="497.40" y="145.20" width="6.40" height="10.54" fill="#ffc8cd"/>
<rect x="503.50" y="145.20" width="6.40" height="10.54" fill="#cdccef"/>
<rect x="509.60" y="145.20" width="6.40" height="10.54" fill="#e33f32"/>
<rect x="515.70" y="145.20" width="6.40" height="10.54" fill="#e33f32"/>
<rect x="521.80" y="145.20" width="6.40" height="10.54" fill="#abace2"/>
<rect x="527.90" y="145.20" width="6.40" height="10.54" fill="#abace2"/>
<rect x="534.00" y="145.20" width="6.40" height="10.54" fill="#abace2"/>
<rect x="540.10" y="145.20" width="6.40" height="10.54" fill="#abace2"/>
<rect x="546.20" y="145.20" width="6.40" height="10.54" fill="#fb868f"/>
<rect x="552.30" y="145.20" width="6.40" height="10.54" fill="#ffc8cd"/>
<rect x="558.40" y="145.20" width="6.40" height="10.54" fill="#abace2"/>
<rect x="564.50" y="145.20" width="6.40" height="10.54" fill="#fc8f98"/>
<rect x="570.60" y="145.20" width="6.40" height="10.54" fill="#abace2"/>
<rect x="576.70" y="145.20" width="6.40" height="10.54" fill="#abace2"/>
<rect x="582.80" y="145.20" width="6.40" height="10.54" fill="#abace2"/>
<rect x="588.90" y="145.20" width="6.40" height="10.54" fill="#abace2"/>
<rect x="595.00" y="145.20" width="6.40" height="10.54" fill="#abace2"/>
<rect x="601.10" y="145.20" width="6.40" height="10.54" fill="#abace2"/>
<rect x="607.20" y="145.20" width="6.40" height="10.54" fill="#abace2"/>
<rect x="613.30" y="145.20" width="6.40" height="10.54" fill="#abace2"/>
<rect x="619.40" y="145.20" width="6.40" height="10.54" fill="#485fb0"/>
<rect x="625.50" y="145.20" width="6.40" height="10.54" fill="#a3a4de"/>
<text transform="translate(635.4,154.12) scale(1,1.08)" font-size="10.1" fill="#1a1a1a" font-family="Liberation Sans">NOC3L</text>
<rect x="460.80" y="155.44" width="6.40" height="10.54" fill="#ffecee"/>
<rect x="466.90" y="155.44" width="6.40" height="10.54" fill="#ffe2e6"/>
<rect x="473.00" y="155.44" width="6.40" height="10.54" fill="#fb7c86"/>
<rect x="479.10" y="155.44" width="6.40" height="10.54" fill="#fb7c86"/>
<rect x="485.20" y="155.44" width="6.40" height="10.54" fill="#fff0f2"/>
<rect x="491.30" y="155.44" width="6.40" height="10.54" fill="#ececf9"/>
<rect x="497.40" y="155.44" width="6.40" height="10.54" fill="#ffe2e6"/>
<rect x="503.50" y="155.44" width="6.40" height="10.54" fill="#fafafe"/>
<rect x="509.60" y="155.44" width="6.40" height="10.54" fill="#fc8f98"/>
<rect x="515.70" y="155.44" width="6.40" height="10.54" fill="#ffffff"/>
<rect x="521.80" y="155.44" width="6.40" height="10.54" fill="#ececf9"/>
<rect x="527.90" y="155.44" width="6.40" height="10.54" fill="#feb5bb"/>
<rect x="534.00" y="155.44" width="6.40" height="10.54" fill="#ececf9"/>
<rect x="540.10" y="155.44" width="6.40" height="10.54" fill="#f5686e"/>
<rect x="546.20" y="155.44" width="6.40" height="10.54" fill="#fc99a1"/>
<rect x="552.30" y="155.44" width="6.40" height="10.54" fill="#fc99a1"/>
<rect x="558.40" y="155.44" width="6.40" height="10.54" fill="#ececf9"/>
<rect x="564.50" y="155.44" width="6.40" height="10.54" fill="#ffd5da"/>
<rect x="570.60" y="155.44" width="6.40" height="10.54" fill="#737dc7"/>
<rect x="576.70" y="155.44" width="6.40" height="10.54" fill="#737dc7"/>
<rect x="582.80" y="155.44" width="6.40" height="10.54" fill="#dad8f3"/>
<rect x="588.90" y="155.44" width="6.40" height="10.54" fill="#485fb0"/>
<rect x="595.00" y="155.44" width="6.40" height="10.54" fill="#5e6ebc"/>
<rect x="601.10" y="155.44" width="6.40" height="10.54" fill="#5e6ebc"/>
<rect x="607.20" y="155.44" width="6.40" height="10.54" fill="#ececf9"/>
<rect x="613.30" y="155.44" width="6.40" height="10.54" fill="#485fb0"/>
<rect x="619.40" y="155.44" width="6.40" height="10.54" fill="#ffffff"/>
<rect x="625.50" y="155.44" width="6.40" height="10.54" fill="#ececf9"/>
<text transform="translate(635.4,164.36) scale(1,1.08)" font-size="10.1" fill="#1a1a1a" font-family="Liberation Sans">SMARCC1</text>
<rect x="460.80" y="165.68" width="6.40" height="10.54" fill="#fff5f7"/>
<rect x="466.90" y="165.68" width="6.40" height="10.54" fill="#ffc8cd"/>
<rect x="473.00" y="165.68" width="6.40" height="10.54" fill="#fa737d"/>
<rect x="479.10" y="165.68" width="6.40" height="10.54" fill="#ffe2e6"/>
<rect x="485.20" y="165.68" width="6.40" height="10.54" fill="#fff5f7"/>
<rect x="491.30" y="165.68" width="6.40" height="10.54" fill="#5e6ebc"/>
<rect x="497.40" y="165.68" width="6.40" height="10.54" fill="#ffecee"/>
<rect x="503.50" y="165.68" width="6.40" height="10.54" fill="#e3e2f6"/>
<rect x="509.60" y="165.68" width="6.40" height="10.54" fill="#fff5f7"/>
<rect x="515.70" y="165.68" width="6.40" height="10.54" fill="#ffffff"/>
<rect x="521.80" y="165.68" width="6.40" height="10.54" fill="#e74941"/>
<rect x="527.90" y="165.68" width="6.40" height="10.54" fill="#f6f5fc"/>
<rect x="534.00" y="165.68" width="6.40" height="10.54" fill="#f6f5fc"/>
<rect x="540.10" y="165.68" width="6.40" height="10.54" fill="#fc99a1"/>
<rect x="546.20" y="165.68" width="6.40" height="10.54" fill="#fb868f"/>
<rect x="552.30" y="165.68" width="6.40" height="10.54" fill="#fb868f"/>
<rect x="558.40" y="165.68" width="6.40" height="10.54" fill="#e3e2f6"/>
<rect x="564.50" y="165.68" width="6.40" height="10.54" fill="#fff5f7"/>
<rect x="570.60" y="165.68" width="6.40" height="10.54" fill="#9294d6"/>
<rect x="576.70" y="165.68" width="6.40" height="10.54" fill="#fff5f7"/>
<rect x="582.80" y="165.68" width="6.40" height="10.54" fill="#e3e2f6"/>
<rect x="588.90" y="165.68" width="6.40" height="10.54" fill="#d4d2f1"/>
<rect x="595.00" y="165.68" width="6.40" height="10.54" fill="#485fb0"/>
<rect x="601.10" y="165.68" width="6.40" height="10.54" fill="#485fb0"/>
<rect x="607.20" y="165.68" width="6.40" height="10.54" fill="#c1c0ea"/>
<rect x="613.30" y="165.68" width="6.40" height="10.54" fill="#485fb0"/>
<rect x="619.40" y="165.68" width="6.40" height="10.54" fill="#f6f5fc"/>
<rect x="625.50" y="165.68" width="6.40" height="10.54" fill="#f6f5fc"/>
<text transform="translate(635.4,174.60) scale(1,1.08)" font-size="10.1" fill="#1a1a1a" font-family="Liberation Sans">SMARCC2</text>
<rect x="460.80" y="175.92" width="6.40" height="10.54" fill="#ffecee"/>
<rect x="466.90" y="175.92" width="6.40" height="10.54" fill="#fc99a1"/>
<rect x="473.00" y="175.92" width="6.40" height="10.54" fill="#fc99a1"/>
<rect x="479.10" y="175.92" width="6.40" height="10.54" fill="#fa737d"/>
<rect x="485.20" y="175.92" width="6.40" height="10.54" fill="#e3e2f6"/>
<rect x="491.30" y="175.92" width="6.40" height="10.54" fill="#e3e2f6"/>
<rect x="497.40" y="175.92" width="6.40" height="10.54" fill="#ffc8cd"/>
<rect x="503.50" y="175.92" width="6.40" height="10.54" fill="#de3423"/>
<rect x="509.60" y="175.92" width="6.40" height="10.54" fill="#f5686e"/>
<rect x="515.70" y="175.92" width="6.40" height="10.54" fill="#ececf9"/>
<rect x="521.80" y="175.92" width="6.40" height="10.54" fill="#e3e2f6"/>
<rect x="527.90" y="175.92" width="6.40" height="10.54" fill="#e3e2f6"/>
<rect x="534.00" y="175.92" width="6.40" height="10.54" fill="#e3e2f6"/>
<rect x="540.10" y="175.92" width="6.40" height="10.54" fill="#e3e2f6"/>
<rect x="546.20" y="175.92" width="6.40" height="10.54" fill="#e3e2f6"/>
<rect x="552.30" y="175.92" width="6.40" height="10.54" fill="#fb7c86"/>
<rect x="558.40" y="175.92" width="6.40" height="10.54" fill="#e3e2f6"/>
<rect x="564.50" y="175.92" width="6.40" height="10.54" fill="#e3e2f6"/>
<rect x="570.60" y="175.92" width="6.40" height="10.54" fill="#b4b4e6"/>
<rect x="576.70" y="175.92" width="6.40" height="10.54" fill="#e3e2f6"/>
<rect x="582.80" y="175.92" width="6.40" height="10.54" fill="#485fb0"/>
<rect x="588.90" y="175.92" width="6.40" height="10.54" fill="#485fb0"/>
<rect x="595.00" y="175.92" width="6.40" height="10.54" fill="#7e84cc"/>
<rect x="601.10" y="175.92" width="6.40" height="10.54" fill="#e3e2f6"/>
<rect x="607.20" y="175.92" width="6.40" height="10.54" fill="#e3e2f6"/>
<rect x="613.30" y="175.92" width="6.40" height="10.54" fill="#e3e2f6"/>
<rect x="619.40" y="175.92" width="6.40" height="10.54" fill="#e3e2f6"/>
<rect x="625.50" y="175.92" width="6.40" height="10.54" fill="#e3e2f6"/>
<text transform="translate(635.4,184.84) scale(1,1.08)" font-size="10.1" fill="#1a1a1a" font-family="Liberation Sans">TCF20</text>
<rect x="460.80" y="186.16" width="6.40" height="10.54" fill="#ffd5da"/>
<rect x="466.90" y="186.16" width="6.40" height="10.54" fill="#ffe2e6"/>
<rect x="473.00" y="186.16" width="6.40" height="10.54" fill="#ffd5da"/>
<rect x="479.10" y="186.16" width="6.40" height="10.54" fill="#fdacb2"/>
<rect x="485.20" y="186.16" width="6.40" height="10.54" fill="#fff5f7"/>
<rect x="491.30" y="186.16" width="6.40" height="10.54" fill="#898cd2"/>
<rect x="497.40" y="186.16" width="6.40" height="10.54" fill="#ffecee"/>
<rect x="503.50" y="186.16" width="6.40" height="10.54" fill="#ffffff"/>
<rect x="509.60" y="186.16" width="6.40" height="10.54" fill="#febfc4"/>
<rect x="515.70" y="186.16" width="6.40" height="10.54" fill="#fff5f7"/>
<rect x="521.80" y="186.16" width="6.40" height="10.54" fill="#ffffff"/>
<rect x="527.90" y="186.16" width="6.40" height="10.54" fill="#ffffff"/>
<rect x="534.00" y="186.16" width="6.40" height="10.54" fill="#f5686e"/>
<rect x="540.10" y="186.16" width="6.40" height="10.54" fill="#fff5f7"/>
<rect x="546.20" y="186.16" width="6.40" height="10.54" fill="#e74941"/>
<rect x="552.30" y="186.16" width="6.40" height="10.54" fill="#e74941"/>
<rect x="558.40" y="186.16" width="6.40" height="10.54" fill="#ffffff"/>
<rect x="564.50" y="186.16" width="6.40" height="10.54" fill="#ffffff"/>
<rect x="570.60" y="186.16" width="6.40" height="10.54" fill="#ececf9"/>
<rect x="576.70" y="186.16" width="6.40" height="10.54" fill="#f6f5fc"/>
<rect x="582.80" y="186.16" width="6.40" height="10.54" fill="#5366b6"/>
<rect x="588.90" y="186.16" width="6.40" height="10.54" fill="#f6f5fc"/>
<rect x="595.00" y="186.16" width="6.40" height="10.54" fill="#485fb0"/>
<rect x="601.10" y="186.16" width="6.40" height="10.54" fill="#6876c1"/>
<rect x="607.20" y="186.16" width="6.40" height="10.54" fill="#485fb0"/>
<rect x="613.30" y="186.16" width="6.40" height="10.54" fill="#6876c1"/>
<rect x="619.40" y="186.16" width="6.40" height="10.54" fill="#6876c1"/>
<rect x="625.50" y="186.16" width="6.40" height="10.54" fill="#ffffff"/>
<text transform="translate(635.4,195.08) scale(1,1.08)" font-size="10.1" fill="#1a1a1a" font-family="Liberation Sans">TFCP2</text>
<rect x="460.80" y="196.40" width="6.40" height="10.54" fill="#ffd5da"/>
<rect x="466.90" y="196.40" width="6.40" height="10.54" fill="#ffe2e6"/>
<rect x="473.00" y="196.40" width="6.40" height="10.54" fill="#ffc8cd"/>
<rect x="479.10" y="196.40" width="6.40" height="10.54" fill="#ffecee"/>
<rect x="485.20" y="196.40" width="6.40" height="10.54" fill="#f6f5fc"/>
<rect x="491.30" y="196.40" width="6.40" height="10.54" fill="#485fb0"/>
<rect x="497.40" y="196.40" width="6.40" height="10.54" fill="#ffecee"/>
<rect x="503.50" y="196.40" width="6.40" height="10.54" fill="#fff5f7"/>
<rect x="509.60" y="196.40" width="6.40" height="10.54" fill="#febfc4"/>
<rect x="515.70" y="196.40" width="6.40" height="10.54" fill="#fff5f7"/>
<rect x="521.80" y="196.40" width="6.40" height="10.54" fill="#ffffff"/>
<rect x="527.90" y="196.40" width="6.40" height="10.54" fill="#ffffff"/>
<rect x="534.00" y="196.40" width="6.40" height="10.54" fill="#e74941"/>
<rect x="540.10" y="196.40" width="6.40" height="10.54" fill="#ffecee"/>
<rect x="546.20" y="196.40" width="6.40" height="10.54" fill="#e74941"/>
<rect x="552.30" y="196.40" width="6.40" height="10.54" fill="#e74941"/>
<rect x="558.40" y="196.40" width="6.40" height="10.54" fill="#ffffff"/>
<rect x="564.50" y="196.40" width="6.40" height="10.54" fill="#f6f5fc"/>
<rect x="570.60" y="196.40" width="6.40" height="10.54" fill="#ffffff"/>
<rect x="576.70" y="196.40" width="6.40" height="10.54" fill="#f6f5fc"/>
<rect x="582.80" y="196.40" width="6.40" height="10.54" fill="#5366b6"/>
<rect x="588.90" y="196.40" width="6.40" height="10.54" fill="#ececf9"/>
<rect x="595.00" y="196.40" width="6.40" height="10.54" fill="#5e6ebc"/>
<rect x="601.10" y="196.40" width="6.40" height="10.54" fill="#5e6ebc"/>
<rect x="607.20" y="196.40" width="6.40" height="10.54" fill="#485fb0"/>
<rect x="613.30" y="196.40" width="6.40" height="10.54" fill="#737dc7"/>
<rect x="619.40" y="196.40" width="6.40" height="10.54" fill="#f6f5fc"/>
<rect x="625.50" y="196.40" width="6.40" height="10.54" fill="#6876c1"/>
<text transform="translate(635.4,205.32) scale(1,1.08)" font-size="10.1" fill="#1a1a1a" font-family="Liberation Sans">UBP1</text>
<defs><linearGradient id="gd" x1="0" x2="1" y1="0" y2="0">
<stop offset="0.000" stop-color="#3250a5"/>
<stop offset="0.050" stop-color="#485fb0"/>
<stop offset="0.100" stop-color="#5e6ebc"/>
<stop offset="0.150" stop-color="#737dc7"/>
<stop offset="0.200" stop-color="#898cd2"/>
<stop offset="0.250" stop-color="#9a9cda"/>
<stop offset="0.300" stop-color="#abace2"/>
<stop offset="0.350" stop-color="#c1c0ea"/>
<stop offset="0.400" stop-color="#dad8f3"/>
<stop offset="0.450" stop-color="#ececf9"/>
<stop offset="0.500" stop-color="#ffffff"/>
<stop offset="0.550" stop-color="#ffecee"/>
<stop offset="0.600" stop-color="#ffd5da"/>
<stop offset="0.650" stop-color="#febfc4"/>
<stop offset="0.700" stop-color="#fdacb2"/>
<stop offset="0.750" stop-color="#fc99a1"/>
<stop offset="0.800" stop-color="#fb868f"/>
<stop offset="0.850" stop-color="#fa737d"/>
<stop offset="0.900" stop-color="#f15e5f"/>
<stop offset="0.950" stop-color="#e74941"/>
<stop offset="1.000" stop-color="#de3423"/>
</linearGradient></defs>
<rect x="556.7" y="222.1" width="72.2" height="4.8" fill="url(#gd)"/>
<text x="596.4" y="219.6" font-size="10.2" text-anchor="middle" fill="#222" font-family="Liberation Sans">z score</text>
<text transform="translate(554.9,229.2) rotate(90)" font-size="8.3" fill="#222" font-family="Liberation Sans">−2</text>
<text transform="translate(573.1,229.2) rotate(90)" font-size="8.3" fill="#222" font-family="Liberation Sans">−1</text>
<text transform="translate(590.7,229.2) rotate(90)" font-size="8.3" fill="#222" font-family="Liberation Sans">0</text>
<text transform="translate(609.0,229.2) rotate(90)" font-size="8.3" fill="#222" font-family="Liberation Sans">1</text>
<text transform="translate(627.1,229.2) rotate(90)" font-size="8.3" fill="#222" font-family="Liberation Sans">2</text>
<path d="M68.2,276.2 V437.6 H175.2" fill="none" stroke="#444" stroke-width="0.9"/>
<path d="M63.2,282.80 H68.2 M63.2,292.68 H68.2 M63.2,302.56 H68.2 M63.2,312.44 H68.2 M63.2,322.32 H68.2 M63.2,332.20 H68.2 M63.2,342.08 H68.2 M63.2,351.96 H68.2 M63.2,361.84 H68.2 M63.2,371.72 H68.2 M63.2,381.60 H68.2 M63.2,391.48 H68.2 M63.2,401.36 H68.2 M63.2,411.24 H68.2 M63.2,421.12 H68.2 M63.2,431.00 H68.2 M68.01,437.6 V442.40000000000003 M85.84,437.6 V442.40000000000003 M103.67,437.6 V442.40000000000003 M121.50,437.6 V442.40000000000003 M139.33,437.6 V442.40000000000003 M157.16,437.6 V442.40000000000003 M174.99,437.6 V442.40000000000003" stroke="#444" stroke-width="0.8"/>
<path d="M121.5,276.5 V437" stroke="#333" stroke-width="0.85" stroke-dasharray="4.1,3.6" stroke-dashoffset="0.6"/>
<path d="M128.6,282.80 H159.6 M128.6,280.80 V284.80 M159.6,280.80 V284.80" stroke="#e03327" stroke-width="1"/>
<circle cx="143.8" cy="282.80" r="2.75" fill="#e03327"/>
<text transform="translate(60.3,286.55) scale(1,1.05)" font-size="10.3" text-anchor="end" fill="#1a1a1a" font-family="Liberation Sans">E2F3</text>
<path d="M113.3,292.68 H140.6 M113.3,290.68 V294.68 M140.6,290.68 V294.68" stroke="#e03327" stroke-width="1"/>
<circle cx="127" cy="292.68" r="2.75" fill="#e03327"/>
<text transform="translate(60.3,296.43) scale(1,1.05)" font-size="10.3" text-anchor="end" fill="#1a1a1a" font-family="Liberation Sans">FOXK2</text>
<path d="M116.5,302.56 H143.5 M116.5,300.56 V304.56 M143.5,300.56 V304.56" stroke="#e03327" stroke-width="1"/>
<circle cx="130" cy="302.56" r="2.75" fill="#e03327"/>
<text transform="translate(60.3,306.31) scale(1,1.05)" font-size="10.3" text-anchor="end" fill="#1a1a1a" font-family="Liberation Sans">NFATC3</text>
<path d="M122.3,312.44 H155.7 M122.3,310.44 V314.44 M155.7,310.44 V314.44" stroke="#e03327" stroke-width="1"/>
<circle cx="139" cy="312.44" r="2.75" fill="#e03327"/>
<text transform="translate(60.3,316.19) scale(1,1.05)" font-size="10.3" text-anchor="end" fill="#1a1a1a" font-family="Liberation Sans">NFKB1</text>
<path d="M115.4,322.32 H143.2 M115.4,320.32 V324.32 M143.2,320.32 V324.32" stroke="#e03327" stroke-width="1"/>
<circle cx="129" cy="322.32" r="2.75" fill="#e03327"/>
<text transform="translate(60.3,326.07) scale(1,1.05)" font-size="10.3" text-anchor="end" fill="#1a1a1a" font-family="Liberation Sans">NFKB2</text>
<path d="M119.7,332.20 H146.7 M119.7,330.20 V334.20 M146.7,330.20 V334.20" stroke="#e03327" stroke-width="1"/>
<circle cx="133.2" cy="332.20" r="2.75" fill="#e03327"/>
<text transform="translate(60.3,335.95) scale(1,1.05)" font-size="10.3" text-anchor="end" fill="#1a1a1a" font-family="Liberation Sans">REL</text>
<path d="M90.2,342.08 H129.4 M90.2,340.08 V344.08 M129.4,340.08 V344.08" stroke="#3352b0" stroke-width="1"/>
<circle cx="109.8" cy="342.08" r="2.25" fill="#3352b0"/>
<text transform="translate(60.3,345.83) scale(1,1.05)" font-size="10.3" text-anchor="end" fill="#1a1a1a" font-family="Liberation Sans">GATA4</text>
<path d="M91.3,351.96 H117.3 M91.3,349.96 V353.96 M117.3,349.96 V353.96" stroke="#3352b0" stroke-width="1"/>
<circle cx="104.5" cy="351.96" r="2.25" fill="#3352b0"/>
<text transform="translate(60.3,355.71) scale(1,1.05)" font-size="10.3" text-anchor="end" fill="#1a1a1a" font-family="Liberation Sans">GATA6</text>
<path d="M99.5,361.84 H129.8 M99.5,359.84 V363.84 M129.8,359.84 V363.84" stroke="#3352b0" stroke-width="1"/>
<circle cx="114.5" cy="361.84" r="2.25" fill="#3352b0"/>
<text transform="translate(60.3,365.59) scale(1,1.05)" font-size="10.3" text-anchor="end" fill="#1a1a1a" font-family="Liberation Sans">HMG20A</text>
<path d="M105.4,371.72 H131.7 M105.4,369.72 V373.72 M131.7,369.72 V373.72" stroke="#3352b0" stroke-width="1"/>
<circle cx="118.5" cy="371.72" r="2.25" fill="#3352b0"/>
<text transform="translate(60.3,375.47) scale(1,1.05)" font-size="10.3" text-anchor="end" fill="#1a1a1a" font-family="Liberation Sans">HNF4G</text>
<path d="M88.5,381.60 H127.4 M88.5,379.60 V383.60 M127.4,379.60 V383.60" stroke="#3352b0" stroke-width="1"/>
<circle cx="108" cy="381.60" r="2.25" fill="#3352b0"/>
<text transform="translate(60.3,385.35) scale(1,1.05)" font-size="10.3" text-anchor="end" fill="#1a1a1a" font-family="Liberation Sans">NOC3L</text>
<path d="M91.4,391.48 H121.3 M91.4,389.48 V393.48 M121.3,389.48 V393.48" stroke="#3352b0" stroke-width="1"/>
<circle cx="106.3" cy="391.48" r="2.25" fill="#3352b0"/>
<text transform="translate(60.3,395.23) scale(1,1.05)" font-size="10.3" text-anchor="end" fill="#1a1a1a" font-family="Liberation Sans">SMARCC1</text>
<path d="M97.4,401.36 H124.3 M97.4,399.36 V403.36 M124.3,399.36 V403.36" stroke="#3352b0" stroke-width="1"/>
<circle cx="110.5" cy="401.36" r="2.25" fill="#3352b0"/>
<text transform="translate(60.3,405.11) scale(1,1.05)" font-size="10.3" text-anchor="end" fill="#1a1a1a" font-family="Liberation Sans">SMARCC2</text>
<path d="M101.2,411.24 H131.7 M101.2,409.24 V413.24 M131.7,409.24 V413.24" stroke="#3352b0" stroke-width="1"/>
<circle cx="116" cy="411.24" r="2.25" fill="#3352b0"/>
<text transform="translate(60.3,414.99) scale(1,1.05)" font-size="10.3" text-anchor="end" fill="#1a1a1a" font-family="Liberation Sans">TCF20</text>
<path d="M83.8,421.12 H122.8 M83.8,419.12 V423.12 M122.8,419.12 V423.12" stroke="#3352b0" stroke-width="1"/>
<circle cx="103.3" cy="421.12" r="2.25" fill="#3352b0"/>
<text transform="translate(60.3,424.87) scale(1,1.05)" font-size="10.3" text-anchor="end" fill="#1a1a1a" font-family="Liberation Sans">TFCP2</text>
<path d="M91.4,431.00 H124.3 M91.4,429.00 V433.00 M124.3,429.00 V433.00" stroke="#3352b0" stroke-width="1"/>
<circle cx="108" cy="431.00" r="2.25" fill="#3352b0"/>
<text transform="translate(60.3,434.75) scale(1,1.05)" font-size="10.3" text-anchor="end" fill="#1a1a1a" font-family="Liberation Sans">UBP1</text>
<text x="68.01" y="453.6" font-size="10" text-anchor="middle" fill="#222" font-family="Liberation Sans">-6</text>
<text x="85.84" y="453.6" font-size="10" text-anchor="middle" fill="#222" font-family="Liberation Sans">-4</text>
<text x="103.67" y="453.6" font-size="10" text-anchor="middle" fill="#222" font-family="Liberation Sans">-2</text>
<text x="121.50" y="453.6" font-size="10" text-anchor="middle" fill="#222" font-family="Liberation Sans">0</text>
<text x="139.33" y="453.6" font-size="10" text-anchor="middle" fill="#222" font-family="Liberation Sans">2</text>
<text x="157.16" y="453.6" font-size="10" text-anchor="middle" fill="#222" font-family="Liberation Sans">4</text>
<text x="174.99" y="453.6" font-size="10" text-anchor="middle" fill="#222" font-family="Liberation Sans">6</text>
<text x="123.8" y="471.5" font-size="10.2" text-anchor="middle" fill="#222" font-family="Liberation Sans">Log2(HR)</text>
<path d="M175,312.4 H163" stroke="#222" stroke-width="1"/>
<path d="M160.4,312.4 L166,309.59999999999997 L164.5,312.4 L166,315.2 Z" fill="#222"/>
<path d="M175,392.2 H163" stroke="#222" stroke-width="1"/>
<path d="M160.4,392.2 L166,389.4 L164.5,392.2 L166,395.0 Z" fill="#222"/>
<rect x="202.6" y="272.1" width="114.12" height="8.7" fill="#6a9fd6"/>
<rect x="316.72" y="272.1" width="63.40" height="8.7" fill="#e8474c"/>
<text x="262.6" y="279.6" font-size="10.2" font-weight="bold" text-anchor="middle" fill="#1a1a1a" font-family="Liberation Sans" textLength="43.8" lengthAdjust="spacingAndGlyphs">Cluster 1</text>
<text x="348.5" y="279.6" font-size="10.2" font-weight="bold" text-anchor="middle" fill="#1a1a1a" font-family="Liberation Sans" textLength="43.8" lengthAdjust="spacingAndGlyphs">Cluster 2</text>
<rect x="202.60" y="283.60" width="6.64" height="9.04" fill="#e74941"/>
<rect x="208.94" y="283.60" width="6.64" height="9.04" fill="#fff5f7"/>
<rect x="215.28" y="283.60" width="6.64" height="9.04" fill="#e74941"/>
<rect x="221.62" y="283.60" width="6.64" height="9.04" fill="#f1f0fa"/>
<rect x="227.96" y="283.60" width="6.64" height="9.04" fill="#fb7c86"/>
<rect x="234.30" y="283.60" width="6.64" height="9.04" fill="#fff5f7"/>
<rect x="240.64" y="283.60" width="6.64" height="9.04" fill="#ececf9"/>
<rect x="246.98" y="283.60" width="6.64" height="9.04" fill="#898cd2"/>
<rect x="253.32" y="283.60" width="6.64" height="9.04" fill="#ececf9"/>
<rect x="259.66" y="283.60" width="6.64" height="9.04" fill="#cdccef"/>
<rect x="266.00" y="283.60" width="6.64" height="9.04" fill="#ffffff"/>
<rect x="272.34" y="283.60" width="6.64" height="9.04" fill="#cdccef"/>
<rect x="278.68" y="283.60" width="6.64" height="9.04" fill="#dad8f3"/>
<rect x="285.02" y="283.60" width="6.64" height="9.04" fill="#cdccef"/>
<rect x="291.36" y="283.60" width="6.64" height="9.04" fill="#ffecee"/>
<rect x="297.70" y="283.60" width="6.64" height="9.04" fill="#fb7c86"/>
<rect x="304.04" y="283.60" width="6.64" height="9.04" fill="#485fb0"/>
<rect x="310.38" y="283.60" width="6.64" height="9.04" fill="#fb868f"/>
<rect x="316.72" y="283.60" width="6.64" height="9.04" fill="#fff0f2"/>
<rect x="323.06" y="283.60" width="6.64" height="9.04" fill="#b4b4e6"/>
<rect x="329.40" y="283.60" width="6.64" height="9.04" fill="#ffc8cd"/>
<rect x="335.74" y="283.60" width="6.64" height="9.04" fill="#7e84cc"/>
<rect x="342.08" y="283.60" width="6.64" height="9.04" fill="#abace2"/>
<rect x="348.42" y="283.60" width="6.64" height="9.04" fill="#e3e2f6"/>
<rect x="354.76" y="283.60" width="6.64" height="9.04" fill="#737dc7"/>
<rect x="361.10" y="283.60" width="6.64" height="9.04" fill="#f1f0fa"/>
<rect x="367.44" y="283.60" width="6.64" height="9.04" fill="#5e6ebc"/>
<rect x="373.78" y="283.60" width="6.64" height="9.04" fill="#cdccef"/>
<text transform="translate(383.2,291.87) scale(1,1.04)" font-size="8.35" fill="#1a1a1a" font-family="Liberation Sans">MCM3</text>
<rect x="202.60" y="292.34" width="6.64" height="9.04" fill="#fc99a1"/>
<rect x="208.94" y="292.34" width="6.64" height="9.04" fill="#ffffff"/>
<rect x="215.28" y="292.34" width="6.64" height="9.04" fill="#fb7c86"/>
<rect x="221.62" y="292.34" width="6.64" height="9.04" fill="#cdccef"/>
<rect x="227.96" y="292.34" width="6.64" height="9.04" fill="#ffc8cd"/>
<rect x="234.30" y="292.34" width="6.64" height="9.04" fill="#e74941"/>
<rect x="240.64" y="292.34" width="6.64" height="9.04" fill="#dad8f3"/>
<rect x="246.98" y="292.34" width="6.64" height="9.04" fill="#b4b4e6"/>
<rect x="253.32" y="292.34" width="6.64" height="9.04" fill="#3d58ab"/>
<rect x="259.66" y="292.34" width="6.64" height="9.04" fill="#a3a4de"/>
<rect x="266.00" y="292.34" width="6.64" height="9.04" fill="#ffecee"/>
<rect x="272.34" y="292.34" width="6.64" height="9.04" fill="#febfc4"/>
<rect x="278.68" y="292.34" width="6.64" height="9.04" fill="#cdccef"/>
<rect x="285.02" y="292.34" width="6.64" height="9.04" fill="#ececf9"/>
<rect x="291.36" y="292.34" width="6.64" height="9.04" fill="#ffe7ea"/>
<rect x="297.70" y="292.34" width="6.64" height="9.04" fill="#ffe7ea"/>
<rect x="304.04" y="292.34" width="6.64" height="9.04" fill="#f6f5fc"/>
<rect x="310.38" y="292.34" width="6.64" height="9.04" fill="#e74941"/>
<rect x="316.72" y="292.34" width="6.64" height="9.04" fill="#f6f5fc"/>
<rect x="323.06" y="292.34" width="6.64" height="9.04" fill="#dad8f3"/>
<rect x="329.40" y="292.34" width="6.64" height="9.04" fill="#fda2a9"/>
<rect x="335.74" y="292.34" width="6.64" height="9.04" fill="#a3a4de"/>
<rect x="342.08" y="292.34" width="6.64" height="9.04" fill="#737dc7"/>
<rect x="348.42" y="292.34" width="6.64" height="9.04" fill="#f6f5fc"/>
<rect x="354.76" y="292.34" width="6.64" height="9.04" fill="#9a9cda"/>
<rect x="361.10" y="292.34" width="6.64" height="9.04" fill="#fff0f2"/>
<rect x="367.44" y="292.34" width="6.64" height="9.04" fill="#5e6ebc"/>
<rect x="373.78" y="292.34" width="6.64" height="9.04" fill="#a3a4de"/>
<text transform="translate(383.2,300.61) scale(1,1.04)" font-size="8.35" fill="#1a1a1a" font-family="Liberation Sans">MCM4</text>
<rect x="202.60" y="301.08" width="6.64" height="9.04" fill="#dad8f3"/>
<rect x="208.94" y="301.08" width="6.64" height="9.04" fill="#dad8f3"/>
<rect x="215.28" y="301.08" width="6.64" height="9.04" fill="#dad8f3"/>
<rect x="221.62" y="301.08" width="6.64" height="9.04" fill="#ffc8cd"/>
<rect x="227.96" y="301.08" width="6.64" height="9.04" fill="#fc99a1"/>
<rect x="234.30" y="301.08" width="6.64" height="9.04" fill="#ffe2e6"/>
<rect x="240.64" y="301.08" width="6.64" height="9.04" fill="#fff5f7"/>
<rect x="246.98" y="301.08" width="6.64" height="9.04" fill="#dad8f3"/>
<rect x="253.32" y="301.08" width="6.64" height="9.04" fill="#f15e5f"/>
<rect x="259.66" y="301.08" width="6.64" height="9.04" fill="#c1c0ea"/>
<rect x="266.00" y="301.08" width="6.64" height="9.04" fill="#e33f32"/>
<rect x="272.34" y="301.08" width="6.64" height="9.04" fill="#e33f32"/>
<rect x="278.68" y="301.08" width="6.64" height="9.04" fill="#dad8f3"/>
<rect x="285.02" y="301.08" width="6.64" height="9.04" fill="#9294d6"/>
<rect x="291.36" y="301.08" width="6.64" height="9.04" fill="#dad8f3"/>
<rect x="297.70" y="301.08" width="6.64" height="9.04" fill="#dad8f3"/>
<rect x="304.04" y="301.08" width="6.64" height="9.04" fill="#dad8f3"/>
<rect x="310.38" y="301.08" width="6.64" height="9.04" fill="#fc99a1"/>
<rect x="316.72" y="301.08" width="6.64" height="9.04" fill="#dad8f3"/>
<rect x="323.06" y="301.08" width="6.64" height="9.04" fill="#dad8f3"/>
<rect x="329.40" y="301.08" width="6.64" height="9.04" fill="#ffecee"/>
<rect x="335.74" y="301.08" width="6.64" height="9.04" fill="#485fb0"/>
<rect x="342.08" y="301.08" width="6.64" height="9.04" fill="#abace2"/>
<rect x="348.42" y="301.08" width="6.64" height="9.04" fill="#fff5f7"/>
<rect x="354.76" y="301.08" width="6.64" height="9.04" fill="#485fb0"/>
<rect x="361.10" y="301.08" width="6.64" height="9.04" fill="#dad8f3"/>
<rect x="367.44" y="301.08" width="6.64" height="9.04" fill="#dad8f3"/>
<rect x="373.78" y="301.08" width="6.64" height="9.04" fill="#dad8f3"/>
<text transform="translate(383.2,309.35) scale(1,1.04)" font-size="8.35" fill="#1a1a1a" font-family="Liberation Sans">RFC1</text>
<rect x="202.60" y="309.82" width="6.64" height="9.04" fill="#ececf9"/>
<rect x="208.94" y="309.82" width="6.64" height="9.04" fill="#e33f32"/>
<rect x="215.28" y="309.82" width="6.64" height="9.04" fill="#ececf9"/>
<rect x="221.62" y="309.82" width="6.64" height="9.04" fill="#ffffff"/>
<rect x="227.96" y="309.82" width="6.64" height="9.04" fill="#ffe2e6"/>
<rect x="234.30" y="309.82" width="6.64" height="9.04" fill="#ffd5da"/>
<rect x="240.64" y="309.82" width="6.64" height="9.04" fill="#e33f32"/>
<rect x="246.98" y="309.82" width="6.64" height="9.04" fill="#fafafe"/>
<rect x="253.32" y="309.82" width="6.64" height="9.04" fill="#ffffff"/>
<rect x="259.66" y="309.82" width="6.64" height="9.04" fill="#ececf9"/>
<rect x="266.00" y="309.82" width="6.64" height="9.04" fill="#febfc4"/>
<rect x="272.34" y="309.82" width="6.64" height="9.04" fill="#ececf9"/>
<rect x="278.68" y="309.82" width="6.64" height="9.04" fill="#e3e2f6"/>
<rect x="285.02" y="309.82" width="6.64" height="9.04" fill="#ececf9"/>
<rect x="291.36" y="309.82" width="6.64" height="9.04" fill="#485fb0"/>
<rect x="297.70" y="309.82" width="6.64" height="9.04" fill="#fff0f2"/>
<rect x="304.04" y="309.82" width="6.64" height="9.04" fill="#fff0f2"/>
<rect x="310.38" y="309.82" width="6.64" height="9.04" fill="#f6f5fc"/>
<rect x="316.72" y="309.82" width="6.64" height="9.04" fill="#737dc7"/>
<rect x="323.06" y="309.82" width="6.64" height="9.04" fill="#ececf9"/>
<rect x="329.40" y="309.82" width="6.64" height="9.04" fill="#ececf9"/>
<rect x="335.74" y="309.82" width="6.64" height="9.04" fill="#f6f5fc"/>
<rect x="342.08" y="309.82" width="6.64" height="9.04" fill="#9294d6"/>
<rect x="348.42" y="309.82" width="6.64" height="9.04" fill="#e3e2f6"/>
<rect x="354.76" y="309.82" width="6.64" height="9.04" fill="#cdccef"/>
<rect x="361.10" y="309.82" width="6.64" height="9.04" fill="#cdccef"/>
<rect x="367.44" y="309.82" width="6.64" height="9.04" fill="#f1f0fa"/>
<rect x="373.78" y="309.82" width="6.64" height="9.04" fill="#b4b4e6"/>
<text transform="translate(383.2,318.09) scale(1,1.04)" font-size="8.35" fill="#1a1a1a" font-family="Liberation Sans">ALYREF</text>
<rect x="202.60" y="318.56" width="6.64" height="9.04" fill="#ffecee"/>
<rect x="208.94" y="318.56" width="6.64" height="9.04" fill="#c1c0ea"/>
<rect x="215.28" y="318.56" width="6.64" height="9.04" fill="#ffffff"/>
<rect x="221.62" y="318.56" width="6.64" height="9.04" fill="#cdccef"/>
<rect x="227.96" y="318.56" width="6.64" height="9.04" fill="#fc99a1"/>
<rect x="234.30" y="318.56" width="6.64" height="9.04" fill="#ffe2e6"/>
<rect x="240.64" y="318.56" width="6.64" height="9.04" fill="#e33f32"/>
<rect x="246.98" y="318.56" width="6.64" height="9.04" fill="#6876c1"/>
<rect x="253.32" y="318.56" width="6.64" height="9.04" fill="#ffc8cd"/>
<rect x="259.66" y="318.56" width="6.64" height="9.04" fill="#c1c0ea"/>
<rect x="266.00" y="318.56" width="6.64" height="9.04" fill="#fc99a1"/>
<rect x="272.34" y="318.56" width="6.64" height="9.04" fill="#fff5f7"/>
<rect x="278.68" y="318.56" width="6.64" height="9.04" fill="#b4b4e6"/>
<rect x="285.02" y="318.56" width="6.64" height="9.04" fill="#febfc4"/>
<rect x="291.36" y="318.56" width="6.64" height="9.04" fill="#ffecee"/>
<rect x="297.70" y="318.56" width="6.64" height="9.04" fill="#ffe2e6"/>
<rect x="304.04" y="318.56" width="6.64" height="9.04" fill="#ececf9"/>
<rect x="310.38" y="318.56" width="6.64" height="9.04" fill="#fc8f98"/>
<rect x="316.72" y="318.56" width="6.64" height="9.04" fill="#9294d6"/>
<rect x="323.06" y="318.56" width="6.64" height="9.04" fill="#f1f0fa"/>
<rect x="329.40" y="318.56" width="6.64" height="9.04" fill="#e3e2f6"/>
<rect x="335.74" y="318.56" width="6.64" height="9.04" fill="#485fb0"/>
<rect x="342.08" y="318.56" width="6.64" height="9.04" fill="#cdccef"/>
<rect x="348.42" y="318.56" width="6.64" height="9.04" fill="#e3e2f6"/>
<rect x="354.76" y="318.56" width="6.64" height="9.04" fill="#b4b4e6"/>
<rect x="361.10" y="318.56" width="6.64" height="9.04" fill="#febfc4"/>
<rect x="367.44" y="318.56" width="6.64" height="9.04" fill="#ffffff"/>
<rect x="373.78" y="318.56" width="6.64" height="9.04" fill="#dad8f3"/>
<text transform="translate(383.2,326.83) scale(1,1.04)" font-size="8.35" fill="#1a1a1a" font-family="Liberation Sans">NAP1L1</text>
<rect x="202.60" y="327.30" width="6.64" height="9.04" fill="#ffd5da"/>
<rect x="208.94" y="327.30" width="6.64" height="9.04" fill="#ffd5da"/>
<rect x="215.28" y="327.30" width="6.64" height="9.04" fill="#ffc8cd"/>
<rect x="221.62" y="327.30" width="6.64" height="9.04" fill="#e3e2f6"/>
<rect x="227.96" y="327.30" width="6.64" height="9.04" fill="#fda2a9"/>
<rect x="234.30" y="327.30" width="6.64" height="9.04" fill="#fda2a9"/>
<rect x="240.64" y="327.30" width="6.64" height="9.04" fill="#dad8f3"/>
<rect x="246.98" y="327.30" width="6.64" height="9.04" fill="#a3a4de"/>
<rect x="253.32" y="327.30" width="6.64" height="9.04" fill="#ffd5da"/>
<rect x="259.66" y="327.30" width="6.64" height="9.04" fill="#ffdce0"/>
<rect x="266.00" y="327.30" width="6.64" height="9.04" fill="#fa737d"/>
<rect x="272.34" y="327.30" width="6.64" height="9.04" fill="#fdacb2"/>
<rect x="278.68" y="327.30" width="6.64" height="9.04" fill="#dad8f3"/>
<rect x="285.02" y="327.30" width="6.64" height="9.04" fill="#ffecee"/>
<rect x="291.36" y="327.30" width="6.64" height="9.04" fill="#898cd2"/>
<rect x="297.70" y="327.30" width="6.64" height="9.04" fill="#ffd5da"/>
<rect x="304.04" y="327.30" width="6.64" height="9.04" fill="#f1f0fa"/>
<rect x="310.38" y="327.30" width="6.64" height="9.04" fill="#e74941"/>
<rect x="316.72" y="327.30" width="6.64" height="9.04" fill="#485fb0"/>
<rect x="323.06" y="327.30" width="6.64" height="9.04" fill="#f6f5fc"/>
<rect x="329.40" y="327.30" width="6.64" height="9.04" fill="#dad8f3"/>
<rect x="335.74" y="327.30" width="6.64" height="9.04" fill="#abace2"/>
<rect x="342.08" y="327.30" width="6.64" height="9.04" fill="#c1c0ea"/>
<rect x="348.42" y="327.30" width="6.64" height="9.04" fill="#ffffff"/>
<rect x="354.76" y="327.30" width="6.64" height="9.04" fill="#9294d6"/>
<rect x="361.10" y="327.30" width="6.64" height="9.04" fill="#e3e2f6"/>
<rect x="367.44" y="327.30" width="6.64" height="9.04" fill="#485fb0"/>
<rect x="373.78" y="327.30" width="6.64" height="9.04" fill="#898cd2"/>
<text transform="translate(383.2,335.57) scale(1,1.04)" font-size="8.35" fill="#1a1a1a" font-family="Liberation Sans">SNRPA1</text>
<rect x="202.60" y="336.04" width="6.64" height="9.04" fill="#e74941"/>
<rect x="208.94" y="336.04" width="6.64" height="9.04" fill="#e3e2f6"/>
<rect x="215.28" y="336.04" width="6.64" height="9.04" fill="#ffc8cd"/>
<rect x="221.62" y="336.04" width="6.64" height="9.04" fill="#ececf9"/>
<rect x="227.96" y="336.04" width="6.64" height="9.04" fill="#febfc4"/>
<rect x="234.30" y="336.04" width="6.64" height="9.04" fill="#ececf9"/>
<rect x="240.64" y="336.04" width="6.64" height="9.04" fill="#febfc4"/>
<rect x="246.98" y="336.04" width="6.64" height="9.04" fill="#cdccef"/>
<rect x="253.32" y="336.04" width="6.64" height="9.04" fill="#fff5f7"/>
<rect x="259.66" y="336.04" width="6.64" height="9.04" fill="#ececf9"/>
<rect x="266.00" y="336.04" width="6.64" height="9.04" fill="#ffffff"/>
<rect x="272.34" y="336.04" width="6.64" height="9.04" fill="#ffffff"/>
<rect x="278.68" y="336.04" width="6.64" height="9.04" fill="#ececf9"/>
<rect x="285.02" y="336.04" width="6.64" height="9.04" fill="#ffecee"/>
<rect x="291.36" y="336.04" width="6.64" height="9.04" fill="#cdccef"/>
<rect x="297.70" y="336.04" width="6.64" height="9.04" fill="#ececf9"/>
<rect x="304.04" y="336.04" width="6.64" height="9.04" fill="#9294d6"/>
<rect x="310.38" y="336.04" width="6.64" height="9.04" fill="#e74941"/>
<rect x="316.72" y="336.04" width="6.64" height="9.04" fill="#abace2"/>
<rect x="323.06" y="336.04" width="6.64" height="9.04" fill="#fff5f7"/>
<rect x="329.40" y="336.04" width="6.64" height="9.04" fill="#c1c0ea"/>
<rect x="335.74" y="336.04" width="6.64" height="9.04" fill="#9a9cda"/>
<rect x="342.08" y="336.04" width="6.64" height="9.04" fill="#dad8f3"/>
<rect x="348.42" y="336.04" width="6.64" height="9.04" fill="#cdccef"/>
<rect x="354.76" y="336.04" width="6.64" height="9.04" fill="#abace2"/>
<rect x="361.10" y="336.04" width="6.64" height="9.04" fill="#ffffff"/>
<rect x="367.44" y="336.04" width="6.64" height="9.04" fill="#898cd2"/>
<rect x="373.78" y="336.04" width="6.64" height="9.04" fill="#485fb0"/>
<text transform="translate(383.2,344.31) scale(1,1.04)" font-size="8.35" fill="#1a1a1a" font-family="Liberation Sans">TCERG1</text>
<rect x="202.60" y="344.78" width="6.64" height="9.04" fill="#fff5f7"/>
<rect x="208.94" y="344.78" width="6.64" height="9.04" fill="#febfc4"/>
<rect x="215.28" y="344.78" width="6.64" height="9.04" fill="#e74941"/>
<rect x="221.62" y="344.78" width="6.64" height="9.04" fill="#cdccef"/>
<rect x="227.96" y="344.78" width="6.64" height="9.04" fill="#ffe2e6"/>
<rect x="234.30" y="344.78" width="6.64" height="9.04" fill="#ffc8cd"/>
<rect x="240.64" y="344.78" width="6.64" height="9.04" fill="#ffe2e6"/>
<rect x="246.98" y="344.78" width="6.64" height="9.04" fill="#dad8f3"/>
<rect x="253.32" y="344.78" width="6.64" height="9.04" fill="#e3e2f6"/>
<rect x="259.66" y="344.78" width="6.64" height="9.04" fill="#abace2"/>
<rect x="266.00" y="344.78" width="6.64" height="9.04" fill="#ffffff"/>
<rect x="272.34" y="344.78" width="6.64" height="9.04" fill="#ffffff"/>
<rect x="278.68" y="344.78" width="6.64" height="9.04" fill="#ececf9"/>
<rect x="285.02" y="344.78" width="6.64" height="9.04" fill="#fff5f7"/>
<rect x="291.36" y="344.78" width="6.64" height="9.04" fill="#fff5f7"/>
<rect x="297.70" y="344.78" width="6.64" height="9.04" fill="#ffffff"/>
<rect x="304.04" y="344.78" width="6.64" height="9.04" fill="#c1c0ea"/>
<rect x="310.38" y="344.78" width="6.64" height="9.04" fill="#fb868f"/>
<rect x="316.72" y="344.78" width="6.64" height="9.04" fill="#5366b6"/>
<rect x="323.06" y="344.78" width="6.64" height="9.04" fill="#cdccef"/>
<rect x="329.40" y="344.78" width="6.64" height="9.04" fill="#fff5f7"/>
<rect x="335.74" y="344.78" width="6.64" height="9.04" fill="#ececf9"/>
<rect x="342.08" y="344.78" width="6.64" height="9.04" fill="#fff5f7"/>
<rect x="348.42" y="344.78" width="6.64" height="9.04" fill="#ececf9"/>
<rect x="354.76" y="344.78" width="6.64" height="9.04" fill="#dad8f3"/>
<rect x="361.10" y="344.78" width="6.64" height="9.04" fill="#ffffff"/>
<rect x="367.44" y="344.78" width="6.64" height="9.04" fill="#7e84cc"/>
<rect x="373.78" y="344.78" width="6.64" height="9.04" fill="#c1c0ea"/>
<text transform="translate(383.2,353.05) scale(1,1.04)" font-size="8.35" fill="#1a1a1a" font-family="Liberation Sans">CDC5L</text>
<rect x="202.60" y="353.52" width="6.64" height="9.04" fill="#f1f0fa"/>
<rect x="208.94" y="353.52" width="6.64" height="9.04" fill="#f1f0fa"/>
<rect x="215.28" y="353.52" width="6.64" height="9.04" fill="#f1f0fa"/>
<rect x="221.62" y="353.52" width="6.64" height="9.04" fill="#f1f0fa"/>
<rect x="227.96" y="353.52" width="6.64" height="9.04" fill="#f1f0fa"/>
<rect x="234.30" y="353.52" width="6.64" height="9.04" fill="#485fb0"/>
<rect x="240.64" y="353.52" width="6.64" height="9.04" fill="#485fb0"/>
<rect x="246.98" y="353.52" width="6.64" height="9.04" fill="#f1f0fa"/>
<rect x="253.32" y="353.52" width="6.64" height="9.04" fill="#f1f0fa"/>
<rect x="259.66" y="353.52" width="6.64" height="9.04" fill="#485fb0"/>
<rect x="266.00" y="353.52" width="6.64" height="9.04" fill="#ffffff"/>
<rect x="272.34" y="353.52" width="6.64" height="9.04" fill="#f1f0fa"/>
<rect x="278.68" y="353.52" width="6.64" height="9.04" fill="#f1f0fa"/>
<rect x="285.02" y="353.52" width="6.64" height="9.04" fill="#e33f32"/>
<rect x="291.36" y="353.52" width="6.64" height="9.04" fill="#f1f0fa"/>
<rect x="297.70" y="353.52" width="6.64" height="9.04" fill="#f1f0fa"/>
<rect x="304.04" y="353.52" width="6.64" height="9.04" fill="#f1f0fa"/>
<rect x="310.38" y="353.52" width="6.64" height="9.04" fill="#f1f0fa"/>
<rect x="316.72" y="353.52" width="6.64" height="9.04" fill="#f1f0fa"/>
<rect x="323.06" y="353.52" width="6.64" height="9.04" fill="#f1f0fa"/>
<rect x="329.40" y="353.52" width="6.64" height="9.04" fill="#e74941"/>
<rect x="335.74" y="353.52" width="6.64" height="9.04" fill="#f6f5fc"/>
<rect x="342.08" y="353.52" width="6.64" height="9.04" fill="#ec5450"/>
<rect x="348.42" y="353.52" width="6.64" height="9.04" fill="#f1f0fa"/>
<rect x="354.76" y="353.52" width="6.64" height="9.04" fill="#f1f0fa"/>
<rect x="361.10" y="353.52" width="6.64" height="9.04" fill="#fff0f2"/>
<rect x="367.44" y="353.52" width="6.64" height="9.04" fill="#e74941"/>
<rect x="373.78" y="353.52" width="6.64" height="9.04" fill="#f1f0fa"/>
<text transform="translate(383.2,361.79) scale(1,1.04)" font-size="8.35" fill="#1a1a1a" font-family="Liberation Sans">CD40</text>
<rect x="202.60" y="362.26" width="6.64" height="9.04" fill="#dad8f3"/>
<rect x="208.94" y="362.26" width="6.64" height="9.04" fill="#dad8f3"/>
<rect x="215.28" y="362.26" width="6.64" height="9.04" fill="#dad8f3"/>
<rect x="221.62" y="362.26" width="6.64" height="9.04" fill="#dad8f3"/>
<rect x="227.96" y="362.26" width="6.64" height="9.04" fill="#dad8f3"/>
<rect x="234.30" y="362.26" width="6.64" height="9.04" fill="#dad8f3"/>
<rect x="240.64" y="362.26" width="6.64" height="9.04" fill="#dad8f3"/>
<rect x="246.98" y="362.26" width="6.64" height="9.04" fill="#dad8f3"/>
<rect x="253.32" y="362.26" width="6.64" height="9.04" fill="#dad8f3"/>
<rect x="259.66" y="362.26" width="6.64" height="9.04" fill="#dad8f3"/>
<rect x="266.00" y="362.26" width="6.64" height="9.04" fill="#dad8f3"/>
<rect x="272.34" y="362.26" width="6.64" height="9.04" fill="#dad8f3"/>
<rect x="278.68" y="362.26" width="6.64" height="9.04" fill="#dad8f3"/>
<rect x="285.02" y="362.26" width="6.64" height="9.04" fill="#e33f32"/>
<rect x="291.36" y="362.26" width="6.64" height="9.04" fill="#dad8f3"/>
<rect x="297.70" y="362.26" width="6.64" height="9.04" fill="#dad8f3"/>
<rect x="304.04" y="362.26" width="6.64" height="9.04" fill="#485fb0"/>
<rect x="310.38" y="362.26" width="6.64" height="9.04" fill="#dad8f3"/>
<rect x="316.72" y="362.26" width="6.64" height="9.04" fill="#dad8f3"/>
<rect x="323.06" y="362.26" width="6.64" height="9.04" fill="#dad8f3"/>
<rect x="329.40" y="362.26" width="6.64" height="9.04" fill="#dad8f3"/>
<rect x="335.74" y="362.26" width="6.64" height="9.04" fill="#dad8f3"/>
<rect x="342.08" y="362.26" width="6.64" height="9.04" fill="#e33f32"/>
<rect x="348.42" y="362.26" width="6.64" height="9.04" fill="#e33f32"/>
<rect x="354.76" y="362.26" width="6.64" height="9.04" fill="#dad8f3"/>
<rect x="361.10" y="362.26" width="6.64" height="9.04" fill="#f15e5f"/>
<rect x="367.44" y="362.26" width="6.64" height="9.04" fill="#dad8f3"/>
<rect x="373.78" y="362.26" width="6.64" height="9.04" fill="#fc99a1"/>
<text transform="translate(383.2,370.53) scale(1,1.04)" font-size="8.35" fill="#1a1a1a" font-family="Liberation Sans">RELB</text>
<rect x="202.60" y="371.00" width="6.64" height="9.04" fill="#fda2a9"/>
<rect x="208.94" y="371.00" width="6.64" height="9.04" fill="#485fb0"/>
<rect x="215.28" y="371.00" width="6.64" height="9.04" fill="#ffffff"/>
<rect x="221.62" y="371.00" width="6.64" height="9.04" fill="#9294d6"/>
<rect x="227.96" y="371.00" width="6.64" height="9.04" fill="#485fb0"/>
<rect x="234.30" y="371.00" width="6.64" height="9.04" fill="#ffffff"/>
<rect x="240.64" y="371.00" width="6.64" height="9.04" fill="#e3e2f6"/>
<rect x="246.98" y="371.00" width="6.64" height="9.04" fill="#ffc8cd"/>
<rect x="253.32" y="371.00" width="6.64" height="9.04" fill="#fdacb2"/>
<rect x="259.66" y="371.00" width="6.64" height="9.04" fill="#b4b4e6"/>
<rect x="266.00" y="371.00" width="6.64" height="9.04" fill="#cdccef"/>
<rect x="272.34" y="371.00" width="6.64" height="9.04" fill="#ececf9"/>
<rect x="278.68" y="371.00" width="6.64" height="9.04" fill="#ffe7ea"/>
<rect x="285.02" y="371.00" width="6.64" height="9.04" fill="#ffe7ea"/>
<rect x="291.36" y="371.00" width="6.64" height="9.04" fill="#ffc8cd"/>
<rect x="297.70" y="371.00" width="6.64" height="9.04" fill="#ffe2e6"/>
<rect x="304.04" y="371.00" width="6.64" height="9.04" fill="#c1c0ea"/>
<rect x="310.38" y="371.00" width="6.64" height="9.04" fill="#9294d6"/>
<rect x="316.72" y="371.00" width="6.64" height="9.04" fill="#feb5bb"/>
<rect x="323.06" y="371.00" width="6.64" height="9.04" fill="#feb5bb"/>
<rect x="329.40" y="371.00" width="6.64" height="9.04" fill="#ffdce0"/>
<rect x="335.74" y="371.00" width="6.64" height="9.04" fill="#ececf9"/>
<rect x="342.08" y="371.00" width="6.64" height="9.04" fill="#ffdce0"/>
<rect x="348.42" y="371.00" width="6.64" height="9.04" fill="#ffdce0"/>
<rect x="354.76" y="371.00" width="6.64" height="9.04" fill="#cdccef"/>
<rect x="361.10" y="371.00" width="6.64" height="9.04" fill="#f15e5f"/>
<rect x="367.44" y="371.00" width="6.64" height="9.04" fill="#ffc8cd"/>
<rect x="373.78" y="371.00" width="6.64" height="9.04" fill="#ffe2e6"/>
<text transform="translate(383.2,379.27) scale(1,1.04)" font-size="8.35" fill="#1a1a1a" font-family="Liberation Sans">GNAI2</text>
<rect x="202.60" y="379.74" width="6.64" height="9.04" fill="#ffffff"/>
<rect x="208.94" y="379.74" width="6.64" height="9.04" fill="#dad8f3"/>
<rect x="215.28" y="379.74" width="6.64" height="9.04" fill="#ffffff"/>
<rect x="221.62" y="379.74" width="6.64" height="9.04" fill="#9294d6"/>
<rect x="227.96" y="379.74" width="6.64" height="9.04" fill="#485fb0"/>
<rect x="234.30" y="379.74" width="6.64" height="9.04" fill="#f5686e"/>
<rect x="240.64" y="379.74" width="6.64" height="9.04" fill="#ececf9"/>
<rect x="246.98" y="379.74" width="6.64" height="9.04" fill="#5e6ebc"/>
<rect x="253.32" y="379.74" width="6.64" height="9.04" fill="#ffffff"/>
<rect x="259.66" y="379.74" width="6.64" height="9.04" fill="#485fb0"/>
<rect x="266.00" y="379.74" width="6.64" height="9.04" fill="#dad8f3"/>
<rect x="272.34" y="379.74" width="6.64" height="9.04" fill="#ffecee"/>
<rect x="278.68" y="379.74" width="6.64" height="9.04" fill="#b4b4e6"/>
<rect x="285.02" y="379.74" width="6.64" height="9.04" fill="#ffd5da"/>
<rect x="291.36" y="379.74" width="6.64" height="9.04" fill="#dad8f3"/>
<rect x="297.70" y="379.74" width="6.64" height="9.04" fill="#ffffff"/>
<rect x="304.04" y="379.74" width="6.64" height="9.04" fill="#e3e2f6"/>
<rect x="310.38" y="379.74" width="6.64" height="9.04" fill="#ffecee"/>
<rect x="316.72" y="379.74" width="6.64" height="9.04" fill="#ffffff"/>
<rect x="323.06" y="379.74" width="6.64" height="9.04" fill="#ffc8cd"/>
<rect x="329.40" y="379.74" width="6.64" height="9.04" fill="#fc99a1"/>
<rect x="335.74" y="379.74" width="6.64" height="9.04" fill="#f6f5fc"/>
<rect x="342.08" y="379.74" width="6.64" height="9.04" fill="#ffced3"/>
<rect x="348.42" y="379.74" width="6.64" height="9.04" fill="#fff0f2"/>
<rect x="354.76" y="379.74" width="6.64" height="9.04" fill="#485fb0"/>
<rect x="361.10" y="379.74" width="6.64" height="9.04" fill="#e33f32"/>
<rect x="367.44" y="379.74" width="6.64" height="9.04" fill="#f15e5f"/>
<rect x="373.78" y="379.74" width="6.64" height="9.04" fill="#febfc4"/>
<text transform="translate(383.2,388.01) scale(1,1.04)" font-size="8.35" fill="#1a1a1a" font-family="Liberation Sans">ITGAL</text>
<rect x="202.60" y="388.48" width="6.64" height="9.04" fill="#cdccef"/>
<rect x="208.94" y="388.48" width="6.64" height="9.04" fill="#cdccef"/>
<rect x="215.28" y="388.48" width="6.64" height="9.04" fill="#cdccef"/>
<rect x="221.62" y="388.48" width="6.64" height="9.04" fill="#cdccef"/>
<rect x="227.96" y="388.48" width="6.64" height="9.04" fill="#485fb0"/>
<rect x="234.30" y="388.48" width="6.64" height="9.04" fill="#cdccef"/>
<rect x="240.64" y="388.48" width="6.64" height="9.04" fill="#fff5f7"/>
<rect x="246.98" y="388.48" width="6.64" height="9.04" fill="#cdccef"/>
<rect x="253.32" y="388.48" width="6.64" height="9.04" fill="#fc99a1"/>
<rect x="259.66" y="388.48" width="6.64" height="9.04" fill="#9294d6"/>
<rect x="266.00" y="388.48" width="6.64" height="9.04" fill="#f6f5fc"/>
<rect x="272.34" y="388.48" width="6.64" height="9.04" fill="#d4d2f1"/>
<rect x="278.68" y="388.48" width="6.64" height="9.04" fill="#feb5bb"/>
<rect x="285.02" y="388.48" width="6.64" height="9.04" fill="#cdccef"/>
<rect x="291.36" y="388.48" width="6.64" height="9.04" fill="#cdccef"/>
<rect x="297.70" y="388.48" width="6.64" height="9.04" fill="#cdccef"/>
<rect x="304.04" y="388.48" width="6.64" height="9.04" fill="#cdccef"/>
<rect x="310.38" y="388.48" width="6.64" height="9.04" fill="#cdccef"/>
<rect x="316.72" y="388.48" width="6.64" height="9.04" fill="#cdccef"/>
<rect x="323.06" y="388.48" width="6.64" height="9.04" fill="#cdccef"/>
<rect x="329.40" y="388.48" width="6.64" height="9.04" fill="#fb7c86"/>
<rect x="335.74" y="388.48" width="6.64" height="9.04" fill="#fb868f"/>
<rect x="342.08" y="388.48" width="6.64" height="9.04" fill="#e33f32"/>
<rect x="348.42" y="388.48" width="6.64" height="9.04" fill="#fc8f98"/>
<rect x="354.76" y="388.48" width="6.64" height="9.04" fill="#cdccef"/>
<rect x="361.10" y="388.48" width="6.64" height="9.04" fill="#e33f32"/>
<rect x="367.44" y="388.48" width="6.64" height="9.04" fill="#cdccef"/>
<rect x="373.78" y="388.48" width="6.64" height="9.04" fill="#cdccef"/>
<text transform="translate(383.2,396.75) scale(1,1.04)" font-size="8.35" fill="#1a1a1a" font-family="Liberation Sans">CD180</text>
<rect x="202.60" y="397.22" width="6.64" height="9.04" fill="#fc99a1"/>
<rect x="208.94" y="397.22" width="6.64" height="9.04" fill="#485fb0"/>
<rect x="215.28" y="397.22" width="6.64" height="9.04" fill="#dad8f3"/>
<rect x="221.62" y="397.22" width="6.64" height="9.04" fill="#dad8f3"/>
<rect x="227.96" y="397.22" width="6.64" height="9.04" fill="#dad8f3"/>
<rect x="234.30" y="397.22" width="6.64" height="9.04" fill="#cdccef"/>
<rect x="240.64" y="397.22" width="6.64" height="9.04" fill="#cdccef"/>
<rect x="246.98" y="397.22" width="6.64" height="9.04" fill="#ffffff"/>
<rect x="253.32" y="397.22" width="6.64" height="9.04" fill="#ffffff"/>
<rect x="259.66" y="397.22" width="6.64" height="9.04" fill="#b4b4e6"/>
<rect x="266.00" y="397.22" width="6.64" height="9.04" fill="#ffffff"/>
<rect x="272.34" y="397.22" width="6.64" height="9.04" fill="#cdccef"/>
<rect x="278.68" y="397.22" width="6.64" height="9.04" fill="#e3e2f6"/>
<rect x="285.02" y="397.22" width="6.64" height="9.04" fill="#ececf9"/>
<rect x="291.36" y="397.22" width="6.64" height="9.04" fill="#cdccef"/>
<rect x="297.70" y="397.22" width="6.64" height="9.04" fill="#fb7c86"/>
<rect x="304.04" y="397.22" width="6.64" height="9.04" fill="#485fb0"/>
<rect x="310.38" y="397.22" width="6.64" height="9.04" fill="#e3e2f6"/>
<rect x="316.72" y="397.22" width="6.64" height="9.04" fill="#e74941"/>
<rect x="323.06" y="397.22" width="6.64" height="9.04" fill="#ececf9"/>
<rect x="329.40" y="397.22" width="6.64" height="9.04" fill="#ffffff"/>
<rect x="335.74" y="397.22" width="6.64" height="9.04" fill="#febfc4"/>
<rect x="342.08" y="397.22" width="6.64" height="9.04" fill="#f6f5fc"/>
<rect x="348.42" y="397.22" width="6.64" height="9.04" fill="#e74941"/>
<rect x="354.76" y="397.22" width="6.64" height="9.04" fill="#fff5f7"/>
<rect x="361.10" y="397.22" width="6.64" height="9.04" fill="#ffffff"/>
<rect x="367.44" y="397.22" width="6.64" height="9.04" fill="#e3e2f6"/>
<rect x="373.78" y="397.22" width="6.64" height="9.04" fill="#f5686e"/>
<text transform="translate(383.2,405.49) scale(1,1.04)" font-size="8.35" fill="#1a1a1a" font-family="Liberation Sans">TMEM173</text>
<rect x="202.60" y="405.96" width="6.64" height="9.04" fill="#f6f5fc"/>
<rect x="208.94" y="405.96" width="6.64" height="9.04" fill="#5e6ebc"/>
<rect x="215.28" y="405.96" width="6.64" height="9.04" fill="#f6f5fc"/>
<rect x="221.62" y="405.96" width="6.64" height="9.04" fill="#f6f5fc"/>
<rect x="227.96" y="405.96" width="6.64" height="9.04" fill="#a3a4de"/>
<rect x="234.30" y="405.96" width="6.64" height="9.04" fill="#fa737d"/>
<rect x="240.64" y="405.96" width="6.64" height="9.04" fill="#ffc8cd"/>
<rect x="246.98" y="405.96" width="6.64" height="9.04" fill="#c1c0ea"/>
<rect x="253.32" y="405.96" width="6.64" height="9.04" fill="#f6f5fc"/>
<rect x="259.66" y="405.96" width="6.64" height="9.04" fill="#485fb0"/>
<rect x="266.00" y="405.96" width="6.64" height="9.04" fill="#dad8f3"/>
<rect x="272.34" y="405.96" width="6.64" height="9.04" fill="#f6f5fc"/>
<rect x="278.68" y="405.96" width="6.64" height="9.04" fill="#f6f5fc"/>
<rect x="285.02" y="405.96" width="6.64" height="9.04" fill="#f6f5fc"/>
<rect x="291.36" y="405.96" width="6.64" height="9.04" fill="#5e6ebc"/>
<rect x="297.70" y="405.96" width="6.64" height="9.04" fill="#f6f5fc"/>
<rect x="304.04" y="405.96" width="6.64" height="9.04" fill="#f6f5fc"/>
<rect x="310.38" y="405.96" width="6.64" height="9.04" fill="#f6f5fc"/>
<rect x="316.72" y="405.96" width="6.64" height="9.04" fill="#f6f5fc"/>
<rect x="323.06" y="405.96" width="6.64" height="9.04" fill="#fb868f"/>
<rect x="329.40" y="405.96" width="6.64" height="9.04" fill="#ffffff"/>
<rect x="335.74" y="405.96" width="6.64" height="9.04" fill="#ffffff"/>
<rect x="342.08" y="405.96" width="6.64" height="9.04" fill="#fc99a1"/>
<rect x="348.42" y="405.96" width="6.64" height="9.04" fill="#ffe2e6"/>
<rect x="354.76" y="405.96" width="6.64" height="9.04" fill="#f6f5fc"/>
<rect x="361.10" y="405.96" width="6.64" height="9.04" fill="#e74941"/>
<rect x="367.44" y="405.96" width="6.64" height="9.04" fill="#f6f5fc"/>
<rect x="373.78" y="405.96" width="6.64" height="9.04" fill="#f6f5fc"/>
<text transform="translate(383.2,414.23) scale(1,1.04)" font-size="8.35" fill="#1a1a1a" font-family="Liberation Sans">PIK3CD</text>
<rect x="202.60" y="414.70" width="6.64" height="9.04" fill="#fff5f7"/>
<rect x="208.94" y="414.70" width="6.64" height="9.04" fill="#9294d6"/>
<rect x="215.28" y="414.70" width="6.64" height="9.04" fill="#c1c0ea"/>
<rect x="221.62" y="414.70" width="6.64" height="9.04" fill="#ececf9"/>
<rect x="227.96" y="414.70" width="6.64" height="9.04" fill="#485fb0"/>
<rect x="234.30" y="414.70" width="6.64" height="9.04" fill="#ececf9"/>
<rect x="240.64" y="414.70" width="6.64" height="9.04" fill="#9a9cda"/>
<rect x="246.98" y="414.70" width="6.64" height="9.04" fill="#f15e5f"/>
<rect x="253.32" y="414.70" width="6.64" height="9.04" fill="#fff0f2"/>
<rect x="259.66" y="414.70" width="6.64" height="9.04" fill="#5366b6"/>
<rect x="266.00" y="414.70" width="6.64" height="9.04" fill="#c1c0ea"/>
<rect x="272.34" y="414.70" width="6.64" height="9.04" fill="#9294d6"/>
<rect x="278.68" y="414.70" width="6.64" height="9.04" fill="#fb868f"/>
<rect x="285.02" y="414.70" width="6.64" height="9.04" fill="#fff5f7"/>
<rect x="291.36" y="414.70" width="6.64" height="9.04" fill="#9294d6"/>
<rect x="297.70" y="414.70" width="6.64" height="9.04" fill="#dad8f3"/>
<rect x="304.04" y="414.70" width="6.64" height="9.04" fill="#ffd5da"/>
<rect x="310.38" y="414.70" width="6.64" height="9.04" fill="#e3e2f6"/>
<rect x="316.72" y="414.70" width="6.64" height="9.04" fill="#e74941"/>
<rect x="323.06" y="414.70" width="6.64" height="9.04" fill="#ffffff"/>
<rect x="329.40" y="414.70" width="6.64" height="9.04" fill="#abace2"/>
<rect x="335.74" y="414.70" width="6.64" height="9.04" fill="#febfc4"/>
<rect x="342.08" y="414.70" width="6.64" height="9.04" fill="#ffc8cd"/>
<rect x="348.42" y="414.70" width="6.64" height="9.04" fill="#ffd5da"/>
<rect x="354.76" y="414.70" width="6.64" height="9.04" fill="#737dc7"/>
<rect x="361.10" y="414.70" width="6.64" height="9.04" fill="#fb7c86"/>
<rect x="367.44" y="414.70" width="6.64" height="9.04" fill="#fb868f"/>
<rect x="373.78" y="414.70" width="6.64" height="9.04" fill="#cdccef"/>
<text transform="translate(383.2,422.97) scale(1,1.04)" font-size="8.35" fill="#1a1a1a" font-family="Liberation Sans">ITGB2</text>
<rect x="202.60" y="423.44" width="6.64" height="9.04" fill="#fda2a9"/>
<rect x="208.94" y="423.44" width="6.64" height="9.04" fill="#c1c0ea"/>
<rect x="215.28" y="423.44" width="6.64" height="9.04" fill="#ffecee"/>
<rect x="221.62" y="423.44" width="6.64" height="9.04" fill="#9294d6"/>
<rect x="227.96" y="423.44" width="6.64" height="9.04" fill="#485fb0"/>
<rect x="234.30" y="423.44" width="6.64" height="9.04" fill="#898cd2"/>
<rect x="240.64" y="423.44" width="6.64" height="9.04" fill="#5e6ebc"/>
<rect x="246.98" y="423.44" width="6.64" height="9.04" fill="#7e84cc"/>
<rect x="253.32" y="423.44" width="6.64" height="9.04" fill="#fff0f2"/>
<rect x="259.66" y="423.44" width="6.64" height="9.04" fill="#dad8f3"/>
<rect x="266.00" y="423.44" width="6.64" height="9.04" fill="#f1f0fa"/>
<rect x="272.34" y="423.44" width="6.64" height="9.04" fill="#e8e7f8"/>
<rect x="278.68" y="423.44" width="6.64" height="9.04" fill="#e8e7f8"/>
<rect x="285.02" y="423.44" width="6.64" height="9.04" fill="#ffe7ea"/>
<rect x="291.36" y="423.44" width="6.64" height="9.04" fill="#ffe7ea"/>
<rect x="297.70" y="423.44" width="6.64" height="9.04" fill="#fff5f7"/>
<rect x="304.04" y="423.44" width="6.64" height="9.04" fill="#5366b6"/>
<rect x="310.38" y="423.44" width="6.64" height="9.04" fill="#5e6ebc"/>
<rect x="316.72" y="423.44" width="6.64" height="9.04" fill="#e74941"/>
<rect x="323.06" y="423.44" width="6.64" height="9.04" fill="#febfc4"/>
<rect x="329.40" y="423.44" width="6.64" height="9.04" fill="#fb868f"/>
<rect x="335.74" y="423.44" width="6.64" height="9.04" fill="#ffd5da"/>
<rect x="342.08" y="423.44" width="6.64" height="9.04" fill="#ffd5da"/>
<rect x="348.42" y="423.44" width="6.64" height="9.04" fill="#fff0f2"/>
<rect x="354.76" y="423.44" width="6.64" height="9.04" fill="#fc8f98"/>
<rect x="361.10" y="423.44" width="6.64" height="9.04" fill="#ffecee"/>
<rect x="367.44" y="423.44" width="6.64" height="9.04" fill="#ffecee"/>
<rect x="373.78" y="423.44" width="6.64" height="9.04" fill="#febfc4"/>
<text transform="translate(383.2,431.71) scale(1,1.04)" font-size="8.35" fill="#1a1a1a" font-family="Liberation Sans">CD44</text>
<rect x="202.60" y="432.18" width="6.64" height="9.04" fill="#ffe7ea"/>
<rect x="208.94" y="432.18" width="6.64" height="9.04" fill="#b4b4e6"/>
<rect x="215.28" y="432.18" width="6.64" height="9.04" fill="#fc99a1"/>
<rect x="221.62" y="432.18" width="6.64" height="9.04" fill="#dad8f3"/>
<rect x="227.96" y="432.18" width="6.64" height="9.04" fill="#485fb0"/>
<rect x="234.30" y="432.18" width="6.64" height="9.04" fill="#dad8f3"/>
<rect x="240.64" y="432.18" width="6.64" height="9.04" fill="#898cd2"/>
<rect x="246.98" y="432.18" width="6.64" height="9.04" fill="#ffdce0"/>
<rect x="253.32" y="432.18" width="6.64" height="9.04" fill="#ffffff"/>
<rect x="259.66" y="432.18" width="6.64" height="9.04" fill="#abace2"/>
<rect x="266.00" y="432.18" width="6.64" height="9.04" fill="#dad8f3"/>
<rect x="272.34" y="432.18" width="6.64" height="9.04" fill="#abace2"/>
<rect x="278.68" y="432.18" width="6.64" height="9.04" fill="#e3e2f6"/>
<rect x="285.02" y="432.18" width="6.64" height="9.04" fill="#ffd5da"/>
<rect x="291.36" y="432.18" width="6.64" height="9.04" fill="#898cd2"/>
<rect x="297.70" y="432.18" width="6.64" height="9.04" fill="#ffecee"/>
<rect x="304.04" y="432.18" width="6.64" height="9.04" fill="#ffc8cd"/>
<rect x="310.38" y="432.18" width="6.64" height="9.04" fill="#7e84cc"/>
<rect x="316.72" y="432.18" width="6.64" height="9.04" fill="#feb5bb"/>
<rect x="323.06" y="432.18" width="6.64" height="9.04" fill="#febfc4"/>
<rect x="329.40" y="432.18" width="6.64" height="9.04" fill="#ffecee"/>
<rect x="335.74" y="432.18" width="6.64" height="9.04" fill="#ffffff"/>
<rect x="342.08" y="432.18" width="6.64" height="9.04" fill="#ffe2e6"/>
<rect x="348.42" y="432.18" width="6.64" height="9.04" fill="#f6f5fc"/>
<rect x="354.76" y="432.18" width="6.64" height="9.04" fill="#ffffff"/>
<rect x="361.10" y="432.18" width="6.64" height="9.04" fill="#e74941"/>
<rect x="367.44" y="432.18" width="6.64" height="9.04" fill="#e74941"/>
<rect x="373.78" y="432.18" width="6.64" height="9.04" fill="#5e6ebc"/>
<text transform="translate(383.2,440.45) scale(1,1.04)" font-size="8.35" fill="#1a1a1a" font-family="Liberation Sans">PTPRC</text>
<rect x="202.60" y="283.60" width="114.12" height="69.92" fill="none" stroke="#111" stroke-width="1"/>
<rect x="316.72" y="353.52" width="63.40" height="87.40" fill="none" stroke="#111" stroke-width="1"/>
<defs><linearGradient id="gf" x1="0" x2="1" y1="0" y2="0">
<stop offset="0.000" stop-color="#3250a5"/>
<stop offset="0.050" stop-color="#485fb0"/>
<stop offset="0.100" stop-color="#5e6ebc"/>
<stop offset="0.150" stop-color="#737dc7"/>
<stop offset="0.200" stop-color="#898cd2"/>
<stop offset="0.250" stop-color="#9a9cda"/>
<stop offset="0.300" stop-color="#abace2"/>
<stop offset="0.350" stop-color="#c1c0ea"/>
<stop offset="0.400" stop-color="#dad8f3"/>
<stop offset="0.450" stop-color="#ececf9"/>
<stop offset="0.500" stop-color="#ffffff"/>
<stop offset="0.550" stop-color="#ffecee"/>
<stop offset="0.600" stop-color="#ffd5da"/>
<stop offset="0.650" stop-color="#febfc4"/>
<stop offset="0.700" stop-color="#fdacb2"/>
<stop offset="0.750" stop-color="#fc99a1"/>
<stop offset="0.800" stop-color="#fb868f"/>
<stop offset="0.850" stop-color="#fa737d"/>
<stop offset="0.900" stop-color="#f15e5f"/>
<stop offset="0.950" stop-color="#e74941"/>
<stop offset="1.000" stop-color="#de3423"/>
</linearGradient></defs>
<rect x="327.7" y="457.6" width="48.9" height="5.1" fill="url(#gf)"/>
<text x="351" y="454.7" font-size="8.6" text-anchor="middle" fill="#222" font-family="Liberation Sans">z score</text>
<text transform="translate(326.7,464.2) rotate(90)" font-size="7.4" fill="#222" font-family="Liberation Sans">−2</text>
<text transform="translate(339.1,464.2) rotate(90)" font-size="7.4" fill="#222" font-family="Liberation Sans">−1</text>
<text transform="translate(350.8,464.2) rotate(90)" font-size="7.4" fill="#222" font-family="Liberation Sans">0</text>
<text transform="translate(363.2,464.2) rotate(90)" font-size="7.4" fill="#222" font-family="Liberation Sans">1</text>
<text transform="translate(375.6,464.2) rotate(90)" font-size="7.4" fill="#222" font-family="Liberation Sans">2</text>
<path d="M547.6,295 V410.9 H663.2" fill="none" stroke="#444" stroke-width="0.9"/>
<rect x="547.6" y="301.20" width="99.42" height="9.7" fill="#6a9bd3" stroke="#555" stroke-width="0.5"/>
<text transform="translate(540.4,309.10) scale(1,1.05)" font-size="8.7" text-anchor="end" fill="#1a1a1a" font-family="Liberation Sans">RNA splicing</text>
<rect x="547.6" y="316.95" width="72.48" height="9.7" fill="#6a9bd3" stroke="#555" stroke-width="0.5"/>
<text transform="translate(540.4,324.85) scale(1,1.05)" font-size="8.7" text-anchor="end" fill="#1a1a1a" font-family="Liberation Sans">Spliceosome</text>
<rect x="547.6" y="332.70" width="29.82" height="9.7" fill="#6a9bd3" stroke="#555" stroke-width="0.5"/>
<text transform="translate(540.4,340.60) scale(1,1.05)" font-size="8.7" text-anchor="end" fill="#1a1a1a" font-family="Liberation Sans">DNA replication</text>
<rect x="547.6" y="348.45" width="65.08" height="9.7" fill="#e8464b" stroke="#555" stroke-width="0.5"/>
<text transform="translate(540.4,356.35) scale(1,1.05)" font-size="8.7" text-anchor="end" fill="#1a1a1a" font-family="Liberation Sans">Immune response</text>
<rect x="547.6" y="364.20" width="44.97" height="9.7" fill="#e8464b" stroke="#555" stroke-width="0.5"/>
<text transform="translate(540.4,372.10) scale(1,1.05)" font-size="8.7" text-anchor="end" fill="#1a1a1a" font-family="Liberation Sans">Inflammatory response</text>
<rect x="547.6" y="379.95" width="35.26" height="9.7" fill="#e8464b" stroke="#555" stroke-width="0.5"/>
<text transform="translate(540.4,387.85) scale(1,1.05)" font-size="8.7" text-anchor="end" fill="#1a1a1a" font-family="Liberation Sans">NF-kappa B signaling pathway</text>
<rect x="547.6" y="395.70" width="35.26" height="9.7" fill="#e8464b" stroke="#555" stroke-width="0.5"/>
<text transform="translate(540.4,403.60) scale(1,1.05)" font-size="8.7" text-anchor="end" fill="#1a1a1a" font-family="Liberation Sans">Cell adhesion molecules</text>
<text x="547.60" y="423.8" font-size="7.6" text-anchor="middle" fill="#222" font-family="Liberation Sans">0</text>
<text x="570.72" y="423.8" font-size="7.6" text-anchor="middle" fill="#222" font-family="Liberation Sans">2</text>
<text x="593.84" y="423.8" font-size="7.6" text-anchor="middle" fill="#222" font-family="Liberation Sans">4</text>
<text x="616.96" y="423.8" font-size="7.6" text-anchor="middle" fill="#222" font-family="Liberation Sans">6</text>
<text x="640.08" y="423.8" font-size="7.6" text-anchor="middle" fill="#222" font-family="Liberation Sans">8</text>
<text x="663.20" y="423.8" font-size="7.6" text-anchor="middle" fill="#222" font-family="Liberation Sans">10</text>
<path d="M543.4,306.00 H547.6 M543.4,321.75 H547.6 M543.4,337.50 H547.6 M543.4,353.25 H547.6 M543.4,369.00 H547.6 M543.4,384.75 H547.6 M543.4,400.50 H547.6 M547.60,410.9 V413.5 M570.72,410.9 V413.5 M593.84,410.9 V413.5 M616.96,410.9 V413.5 M640.08,410.9 V413.5 M663.20,410.9 V413.5" stroke="#444" stroke-width="0.8"/>
<text x="605.9" y="436" font-size="7.9" text-anchor="middle" fill="#222" font-family="Liberation Sans">-Log10(FDR)</text>
<path d="M33.0,490.5 V593.6" fill="none" stroke="#444" stroke-width="0.9"/>
<path d="M29.3,593.6 H338.6" fill="none" stroke="#9a9a9a" stroke-width="1.4"/>
<path d="M29.3,593.60 H33.0 M30.8,588.45 H33.0 M30.8,583.29 H33.0 M30.8,578.13 H33.0 M30.8,572.98 H33.0 M30.8,567.83 H33.0 M30.8,562.67 H33.0 M30.8,557.51 H33.0 M30.8,552.36 H33.0 M30.8,547.21 H33.0 M29.3,542.05 H33.0 M30.8,536.89 H33.0 M30.8,531.74 H33.0 M30.8,526.59 H33.0 M30.8,521.43 H33.0 M30.8,516.27 H33.0 M30.8,511.12 H33.0 M30.8,505.96 H33.0 M30.8,500.81 H33.0 M30.8,495.65 H33.0 M29.3,490.50 H33.0" stroke="#444" stroke-width="0.8"/>
<path d="M34.20,594.2 V598.2 M42.48,594.2 V598.2 M50.76,594.2 V598.2 M59.04,594.2 V598.2 M67.32,594.2 V598.2 M75.60,594.2 V598.2 M83.88,594.2 V598.2 M92.16,594.2 V598.2 M100.44,594.2 V598.2 M108.72,594.2 V598.2 M117.00,594.2 V598.2 M125.28,594.2 V598.2 M133.56,594.2 V598.2 M141.84,594.2 V598.2 M150.12,594.2 V598.2 M158.40,594.2 V598.2 M166.68,594.2 V598.2 M174.96,594.2 V598.2 M183.24,594.2 V598.2 M191.52,594.2 V598.2 M199.80,594.2 V598.2 M208.08,594.2 V598.2 M216.36,594.2 V598.2 M224.64,594.2 V598.2 M232.92,594.2 V598.2 M241.20,594.2 V598.2 M249.48,594.2 V598.2 M257.76,594.2 V598.2 M266.04,594.2 V598.2 M274.32,594.2 V598.2 M282.60,594.2 V598.2 M290.88,594.2 V598.2 M299.16,594.2 V598.2 M307.44,594.2 V598.2 M315.72,594.2 V598.2 M324.00,594.2 V598.2 M332.28,594.2 V598.2" stroke="#333" stroke-width="0.9"/>
<path d="M33.0,516.27 H338.3 M33.0,567.83 H338.3" stroke="#111" stroke-width="0.9" stroke-dasharray="1.4,1.0"/>
<text x="27.1" y="493.90" font-size="8.2" text-anchor="end" fill="#444" style="stroke:#444" font-family="Liberation Sans">1.0</text>
<text x="27.1" y="545.45" font-size="8.2" text-anchor="end" fill="#444" style="stroke:#444" font-family="Liberation Sans">0.5</text>
<text x="27.1" y="597.00" font-size="8.2" text-anchor="end" fill="#444" style="stroke:#444" font-family="Liberation Sans">0.0</text>
<text transform="translate(15.3,546.3) rotate(-90)" font-size="7.7" text-anchor="middle" fill="#222" font-family="Liberation Sans">Probability</text>
<g fill="none" stroke="#3350b5" stroke-width="1.5"><circle cx="35.20" cy="493.80" r="1.5"/><circle cx="39.34" cy="494.20" r="1.5"/><circle cx="43.48" cy="494.20" r="1.5"/><circle cx="47.62" cy="495.50" r="1.5"/><circle cx="51.76" cy="495.50" r="1.5"/><circle cx="55.90" cy="496.80" r="1.5"/><circle cx="60.04" cy="497.20" r="1.5"/><circle cx="64.18" cy="497.50" r="1.5"/><circle cx="68.32" cy="498.10" r="1.5"/><circle cx="72.46" cy="498.10" r="1.5"/><circle cx="76.60" cy="498.70" r="1.5"/><circle cx="80.74" cy="499.80" r="1.5"/><circle cx="84.88" cy="500.40" r="1.5"/><circle cx="89.02" cy="500.50" r="1.5"/><circle cx="93.16" cy="500.50" r="1.5"/><circle cx="97.30" cy="500.80" r="1.5"/><circle cx="101.44" cy="501.70" r="1.5"/><circle cx="105.58" cy="501.80" r="1.5"/><circle cx="109.72" cy="501.80" r="1.5"/><circle cx="113.86" cy="502.10" r="1.5"/><circle cx="118.00" cy="504.00" r="1.5"/><circle cx="122.14" cy="506.00" r="1.5"/><circle cx="126.28" cy="506.60" r="1.5"/><circle cx="130.42" cy="507.60" r="1.5"/><circle cx="134.56" cy="511.10" r="1.5"/><circle cx="138.70" cy="513.70" r="1.5"/><circle cx="142.84" cy="514.70" r="1.5"/><circle cx="146.98" cy="515.40" r="1.5"/><circle cx="151.12" cy="516.80" r="1.5"/><circle cx="155.26" cy="517.80" r="1.5"/><circle cx="159.40" cy="518.40" r="1.5"/><circle cx="163.54" cy="519.90" r="1.5"/><circle cx="167.68" cy="523.90" r="1.5"/><circle cx="171.82" cy="527.60" r="1.5"/><circle cx="175.96" cy="529.70" r="1.5"/><circle cx="180.10" cy="530.10" r="1.5"/><circle cx="184.24" cy="534.80" r="1.5"/><circle cx="188.38" cy="536.80" r="1.5"/><circle cx="192.52" cy="538.90" r="1.5"/><circle cx="196.66" cy="546.40" r="1.5"/><circle cx="200.80" cy="547.40" r="1.5"/><circle cx="204.94" cy="549.50" r="1.5"/><circle cx="209.08" cy="555.20" r="1.5"/><circle cx="213.22" cy="559.30" r="1.5"/><circle cx="217.36" cy="560.10" r="1.5"/><circle cx="221.50" cy="560.70" r="1.5"/><circle cx="225.64" cy="566.90" r="1.5"/><circle cx="229.78" cy="566.90" r="1.5"/><circle cx="233.92" cy="567.50" r="1.5"/><circle cx="238.06" cy="567.90" r="1.5"/><circle cx="242.20" cy="568.90" r="1.5"/><circle cx="246.34" cy="569.90" r="1.5"/><circle cx="250.48" cy="572.50" r="1.5"/><circle cx="254.62" cy="574.50" r="1.5"/><circle cx="258.76" cy="574.50" r="1.5"/><circle cx="262.90" cy="575.80" r="1.5"/><circle cx="267.04" cy="576.80" r="1.5"/><circle cx="271.18" cy="581.30" r="1.5"/><circle cx="275.32" cy="581.90" r="1.5"/><circle cx="279.46" cy="582.70" r="1.5"/><circle cx="283.60" cy="587.60" r="1.5"/><circle cx="287.74" cy="587.60" r="1.5"/><circle cx="291.88" cy="588.60" r="1.5"/><circle cx="296.02" cy="588.60" r="1.5"/><circle cx="300.16" cy="591.80" r="1.5"/><circle cx="304.30" cy="592.80" r="1.5"/><circle cx="308.44" cy="593.00" r="1.5"/><circle cx="312.58" cy="593.10" r="1.5"/><circle cx="316.72" cy="593.10" r="1.5"/><circle cx="320.86" cy="593.30" r="1.5"/><circle cx="325.00" cy="593.70" r="1.5"/><circle cx="329.14" cy="593.70" r="1.5"/><circle cx="333.28" cy="593.70" r="1.5"/><circle cx="337.42" cy="593.70" r="1.5"/></g>
<g fill="none" stroke="#e2352b" stroke-width="1.5"><circle cx="33.40" cy="590.30" r="1.5"/><circle cx="37.54" cy="589.90" r="1.5"/><circle cx="41.68" cy="589.90" r="1.5"/><circle cx="45.82" cy="588.60" r="1.5"/><circle cx="49.96" cy="588.60" r="1.5"/><circle cx="54.10" cy="587.30" r="1.5"/><circle cx="58.24" cy="586.90" r="1.5"/><circle cx="62.38" cy="586.60" r="1.5"/><circle cx="66.52" cy="586.00" r="1.5"/><circle cx="70.66" cy="586.00" r="1.5"/><circle cx="74.80" cy="585.40" r="1.5"/><circle cx="78.94" cy="584.30" r="1.5"/><circle cx="83.08" cy="583.70" r="1.5"/><circle cx="87.22" cy="583.60" r="1.5"/><circle cx="91.36" cy="583.60" r="1.5"/><circle cx="95.50" cy="583.30" r="1.5"/><circle cx="99.64" cy="582.40" r="1.5"/><circle cx="103.78" cy="582.30" r="1.5"/><circle cx="107.92" cy="582.30" r="1.5"/><circle cx="112.06" cy="582.00" r="1.5"/><circle cx="116.20" cy="580.10" r="1.5"/><circle cx="120.34" cy="578.10" r="1.5"/><circle cx="124.48" cy="577.50" r="1.5"/><circle cx="128.62" cy="576.50" r="1.5"/><circle cx="132.76" cy="573.00" r="1.5"/><circle cx="136.90" cy="570.40" r="1.5"/><circle cx="141.04" cy="569.40" r="1.5"/><circle cx="145.18" cy="568.70" r="1.5"/><circle cx="149.32" cy="567.30" r="1.5"/><circle cx="153.46" cy="566.30" r="1.5"/><circle cx="157.60" cy="565.70" r="1.5"/><circle cx="161.74" cy="564.20" r="1.5"/><circle cx="165.88" cy="560.20" r="1.5"/><circle cx="170.02" cy="556.50" r="1.5"/><circle cx="174.16" cy="554.40" r="1.5"/><circle cx="178.30" cy="554.00" r="1.5"/><circle cx="182.44" cy="549.30" r="1.5"/><circle cx="186.58" cy="547.30" r="1.5"/><circle cx="190.72" cy="545.20" r="1.5"/><circle cx="194.86" cy="537.70" r="1.5"/><circle cx="199.00" cy="536.70" r="1.5"/><circle cx="203.14" cy="534.60" r="1.5"/><circle cx="207.28" cy="528.90" r="1.5"/><circle cx="211.42" cy="524.80" r="1.5"/><circle cx="215.56" cy="524.00" r="1.5"/><circle cx="219.70" cy="523.40" r="1.5"/><circle cx="223.84" cy="517.20" r="1.5"/><circle cx="227.98" cy="517.20" r="1.5"/><circle cx="232.12" cy="516.60" r="1.5"/><circle cx="236.26" cy="516.20" r="1.5"/><circle cx="240.40" cy="515.20" r="1.5"/><circle cx="244.54" cy="514.20" r="1.5"/><circle cx="248.68" cy="511.60" r="1.5"/><circle cx="252.82" cy="509.60" r="1.5"/><circle cx="256.96" cy="509.60" r="1.5"/><circle cx="261.10" cy="508.30" r="1.5"/><circle cx="265.24" cy="507.30" r="1.5"/><circle cx="269.38" cy="502.80" r="1.5"/><circle cx="273.52" cy="502.20" r="1.5"/><circle cx="277.66" cy="501.40" r="1.5"/><circle cx="281.80" cy="496.50" r="1.5"/><circle cx="285.94" cy="496.50" r="1.5"/><circle cx="290.08" cy="495.50" r="1.5"/><circle cx="294.22" cy="495.50" r="1.5"/><circle cx="298.36" cy="492.30" r="1.5"/><circle cx="302.50" cy="491.30" r="1.5"/><circle cx="306.64" cy="491.10" r="1.5"/><circle cx="310.78" cy="491.00" r="1.5"/><circle cx="314.92" cy="491.00" r="1.5"/><circle cx="319.06" cy="490.80" r="1.5"/><circle cx="323.20" cy="490.40" r="1.5"/><circle cx="327.34" cy="490.40" r="1.5"/><circle cx="331.48" cy="490.40" r="1.5"/><circle cx="335.62" cy="490.40" r="1.5"/></g>
<circle cx="42" cy="539.9" r="3.0" fill="none" stroke="#3350b5" stroke-width="1.3"/>
<circle cx="42" cy="550.4" r="3.0" fill="none" stroke="#e2352b" stroke-width="1.3"/>
<text x="49" y="542.3" font-size="7.68" fill="#222" font-family="Liberation Sans">probability in SMARCC1 subtype</text>
<text x="49" y="552.6" font-size="7.68" fill="#222" font-family="Liberation Sans">probability in NFKB1 subtype</text>
<rect x="29.80" y="606.10" width="4.20" height="8.35" fill="#8c8fd3" stroke="#d8d8d8" stroke-width="0.3"/>
<rect x="34.00" y="606.10" width="4.20" height="8.35" fill="#b8b8e7" stroke="#d8d8d8" stroke-width="0.3"/>
<rect x="38.20" y="606.10" width="4.20" height="8.35" fill="#6876c1" stroke="#d8d8d8" stroke-width="0.3"/>
<rect x="42.40" y="606.10" width="4.20" height="8.35" fill="#b8b8e7" stroke="#d8d8d8" stroke-width="0.3"/>
<rect x="46.60" y="606.10" width="4.20" height="8.35" fill="#b8b8e7" stroke="#d8d8d8" stroke-width="0.3"/>
<rect x="50.80" y="606.10" width="4.20" height="8.35" fill="#cdccef" stroke="#d8d8d8" stroke-width="0.3"/>
<rect x="55.00" y="606.10" width="4.20" height="8.35" fill="#cdccef" stroke="#d8d8d8" stroke-width="0.3"/>
<rect x="59.20" y="606.10" width="4.20" height="8.35" fill="#a9a9e1" stroke="#d8d8d8" stroke-width="0.3"/>
<rect x="63.40" y="606.10" width="4.20" height="8.35" fill="#ffffff" stroke="#d8d8d8" stroke-width="0.3"/>
<rect x="67.60" y="606.10" width="4.20" height="8.35" fill="#b1b1e5" stroke="#d8d8d8" stroke-width="0.3"/>
<rect x="71.80" y="606.10" width="4.20" height="8.35" fill="#b1b1e5" stroke="#d8d8d8" stroke-width="0.3"/>
<rect x="76.00" y="606.10" width="4.20" height="8.35" fill="#e6e5f7" stroke="#d8d8d8" stroke-width="0.3"/>
<rect x="80.20" y="606.10" width="4.20" height="8.35" fill="#b1b1e5" stroke="#d8d8d8" stroke-width="0.3"/>
<rect x="84.40" y="606.10" width="4.20" height="8.35" fill="#cdccef" stroke="#d8d8d8" stroke-width="0.3"/>
<rect x="88.60" y="606.10" width="4.20" height="8.35" fill="#cdccef" stroke="#d8d8d8" stroke-width="0.3"/>
<rect x="92.80" y="606.10" width="4.20" height="8.35" fill="#e0def5" stroke="#d8d8d8" stroke-width="0.3"/>
<rect x="97.00" y="606.10" width="4.20" height="8.35" fill="#e0def5" stroke="#d8d8d8" stroke-width="0.3"/>
<rect x="101.20" y="606.10" width="4.20" height="8.35" fill="#cdccef" stroke="#d8d8d8" stroke-width="0.3"/>
<rect x="105.40" y="606.10" width="4.20" height="8.35" fill="#dad8f3" stroke="#d8d8d8" stroke-width="0.3"/>
<rect x="109.60" y="606.10" width="4.20" height="8.35" fill="#b1b1e5" stroke="#d8d8d8" stroke-width="0.3"/>
<rect x="113.80" y="606.10" width="4.20" height="8.35" fill="#cdccef" stroke="#d8d8d8" stroke-width="0.3"/>
<rect x="118.00" y="606.10" width="4.20" height="8.35" fill="#ffffff" stroke="#d8d8d8" stroke-width="0.3"/>
<rect x="122.20" y="606.10" width="4.20" height="8.35" fill="#ffffff" stroke="#d8d8d8" stroke-width="0.3"/>
<rect x="126.40" y="606.10" width="4.20" height="8.35" fill="#ffffff" stroke="#d8d8d8" stroke-width="0.3"/>
<rect x="130.60" y="606.10" width="4.20" height="8.35" fill="#b1b1e5" stroke="#d8d8d8" stroke-width="0.3"/>
<rect x="134.80" y="606.10" width="4.20" height="8.35" fill="#ffecee" stroke="#d8d8d8" stroke-width="0.3"/>
<rect x="139.00" y="606.10" width="4.20" height="8.35" fill="#ffecee" stroke="#d8d8d8" stroke-width="0.3"/>
<rect x="143.20" y="606.10" width="4.20" height="8.35" fill="#ffffff" stroke="#d8d8d8" stroke-width="0.3"/>
<rect x="147.40" y="606.10" width="4.20" height="8.35" fill="#ffffff" stroke="#d8d8d8" stroke-width="0.3"/>
<rect x="151.60" y="606.10" width="4.20" height="8.35" fill="#ffffff" stroke="#d8d8d8" stroke-width="0.3"/>
<rect x="155.80" y="606.10" width="4.20" height="8.35" fill="#fff9f9" stroke="#d8d8d8" stroke-width="0.3"/>
<rect x="160.00" y="606.10" width="4.20" height="8.35" fill="#ffffff" stroke="#d8d8d8" stroke-width="0.3"/>
<rect x="164.20" y="606.10" width="4.20" height="8.35" fill="#ffecee" stroke="#d8d8d8" stroke-width="0.3"/>
<rect x="168.40" y="606.10" width="4.20" height="8.35" fill="#ffffff" stroke="#d8d8d8" stroke-width="0.3"/>
<rect x="172.60" y="606.10" width="4.20" height="8.35" fill="#ffdee2" stroke="#d8d8d8" stroke-width="0.3"/>
<rect x="176.80" y="606.10" width="4.20" height="8.35" fill="#ffe5e9" stroke="#d8d8d8" stroke-width="0.3"/>
<rect x="181.00" y="606.10" width="4.20" height="8.35" fill="#ffffff" stroke="#d8d8d8" stroke-width="0.3"/>
<rect x="185.20" y="606.10" width="4.20" height="8.35" fill="#ffe8ec" stroke="#d8d8d8" stroke-width="0.3"/>
<rect x="189.40" y="606.10" width="4.20" height="8.35" fill="#ffe5e9" stroke="#d8d8d8" stroke-width="0.3"/>
<rect x="193.60" y="606.10" width="4.20" height="8.35" fill="#ffe5e9" stroke="#d8d8d8" stroke-width="0.3"/>
<rect x="197.80" y="606.10" width="4.20" height="8.35" fill="#ffe8ec" stroke="#d8d8d8" stroke-width="0.3"/>
<rect x="202.00" y="606.10" width="4.20" height="8.35" fill="#ffd5da" stroke="#d8d8d8" stroke-width="0.3"/>
<rect x="206.20" y="606.10" width="4.20" height="8.35" fill="#ffecee" stroke="#d8d8d8" stroke-width="0.3"/>
<rect x="210.40" y="606.10" width="4.20" height="8.35" fill="#ffe8ec" stroke="#d8d8d8" stroke-width="0.3"/>
<rect x="214.60" y="606.10" width="4.20" height="8.35" fill="#ffd5da" stroke="#d8d8d8" stroke-width="0.3"/>
<rect x="218.80" y="606.10" width="4.20" height="8.35" fill="#ffe5e9" stroke="#d8d8d8" stroke-width="0.3"/>
<rect x="223.00" y="606.10" width="4.20" height="8.35" fill="#ffd5da" stroke="#d8d8d8" stroke-width="0.3"/>
<rect x="227.20" y="606.10" width="4.20" height="8.35" fill="#febfc4" stroke="#d8d8d8" stroke-width="0.3"/>
<rect x="231.40" y="606.10" width="4.20" height="8.35" fill="#ffc8cd" stroke="#d8d8d8" stroke-width="0.3"/>
<rect x="235.60" y="606.10" width="4.20" height="8.35" fill="#fda2a9" stroke="#d8d8d8" stroke-width="0.3"/>
<rect x="239.80" y="606.10" width="4.20" height="8.35" fill="#ffe5e9" stroke="#d8d8d8" stroke-width="0.3"/>
<rect x="244.00" y="606.10" width="4.20" height="8.35" fill="#feb8be" stroke="#d8d8d8" stroke-width="0.3"/>
<rect x="248.20" y="606.10" width="4.20" height="8.35" fill="#ffe8ec" stroke="#d8d8d8" stroke-width="0.3"/>
<rect x="252.40" y="606.10" width="4.20" height="8.35" fill="#fd9fa6" stroke="#d8d8d8" stroke-width="0.3"/>
<rect x="256.60" y="606.10" width="4.20" height="8.35" fill="#ffdee2" stroke="#d8d8d8" stroke-width="0.3"/>
<rect x="260.80" y="606.10" width="4.20" height="8.35" fill="#ffdee2" stroke="#d8d8d8" stroke-width="0.3"/>
<rect x="265.00" y="606.10" width="4.20" height="8.35" fill="#feb8be" stroke="#d8d8d8" stroke-width="0.3"/>
<rect x="269.20" y="606.10" width="4.20" height="8.35" fill="#fda9af" stroke="#d8d8d8" stroke-width="0.3"/>
<rect x="273.40" y="606.10" width="4.20" height="8.35" fill="#feb8be" stroke="#d8d8d8" stroke-width="0.3"/>
<rect x="277.60" y="606.10" width="4.20" height="8.35" fill="#fda9af" stroke="#d8d8d8" stroke-width="0.3"/>
<rect x="281.80" y="606.10" width="4.20" height="8.35" fill="#fa7983" stroke="#d8d8d8" stroke-width="0.3"/>
<rect x="286.00" y="606.10" width="4.20" height="8.35" fill="#fb8089" stroke="#d8d8d8" stroke-width="0.3"/>
<rect x="290.20" y="606.10" width="4.20" height="8.35" fill="#feb8be" stroke="#d8d8d8" stroke-width="0.3"/>
<rect x="294.40" y="606.10" width="4.20" height="8.35" fill="#fc99a1" stroke="#d8d8d8" stroke-width="0.3"/>
<rect x="298.60" y="606.10" width="4.20" height="8.35" fill="#feb8be" stroke="#d8d8d8" stroke-width="0.3"/>
<rect x="302.80" y="606.10" width="4.20" height="8.35" fill="#fc99a1" stroke="#d8d8d8" stroke-width="0.3"/>
<rect x="307.00" y="606.10" width="4.20" height="8.35" fill="#fc99a1" stroke="#d8d8d8" stroke-width="0.3"/>
<rect x="311.20" y="606.10" width="4.20" height="8.35" fill="#fda9af" stroke="#d8d8d8" stroke-width="0.3"/>
<rect x="315.40" y="606.10" width="4.20" height="8.35" fill="#fd9fa6" stroke="#d8d8d8" stroke-width="0.3"/>
<rect x="319.60" y="606.10" width="4.20" height="8.35" fill="#fa737d" stroke="#d8d8d8" stroke-width="0.3"/>
<rect x="323.80" y="606.10" width="4.20" height="8.35" fill="#fc99a1" stroke="#d8d8d8" stroke-width="0.3"/>
<rect x="328.00" y="606.10" width="4.20" height="8.35" fill="#e6453c" stroke="#d8d8d8" stroke-width="0.3"/>
<rect x="332.20" y="606.10" width="4.20" height="8.35" fill="#f5686e" stroke="#d8d8d8" stroke-width="0.3"/>
<rect x="336.40" y="606.10" width="4.20" height="8.35" fill="#f5686e" stroke="#d8d8d8" stroke-width="0.3"/>
<rect x="29.80" y="614.45" width="4.20" height="8.35" fill="#ffe5e9" stroke="#d8d8d8" stroke-width="0.3"/>
<rect x="34.00" y="614.45" width="4.20" height="8.35" fill="#fb8992" stroke="#d8d8d8" stroke-width="0.3"/>
<rect x="38.20" y="614.45" width="4.20" height="8.35" fill="#6876c1" stroke="#d8d8d8" stroke-width="0.3"/>
<rect x="42.40" y="614.45" width="4.20" height="8.35" fill="#ffffff" stroke="#d8d8d8" stroke-width="0.3"/>
<rect x="46.60" y="614.45" width="4.20" height="8.35" fill="#f0effa" stroke="#d8d8d8" stroke-width="0.3"/>
<rect x="50.80" y="614.45" width="4.20" height="8.35" fill="#fc99a1" stroke="#d8d8d8" stroke-width="0.3"/>
<rect x="55.00" y="614.45" width="4.20" height="8.35" fill="#ffd5da" stroke="#d8d8d8" stroke-width="0.3"/>
<rect x="59.20" y="614.45" width="4.20" height="8.35" fill="#ffffff" stroke="#d8d8d8" stroke-width="0.3"/>
<rect x="63.40" y="614.45" width="4.20" height="8.35" fill="#e6453c" stroke="#d8d8d8" stroke-width="0.3"/>
<rect x="67.60" y="614.45" width="4.20" height="8.35" fill="#ffffff" stroke="#d8d8d8" stroke-width="0.3"/>
<rect x="71.80" y="614.45" width="4.20" height="8.35" fill="#f0effa" stroke="#d8d8d8" stroke-width="0.3"/>
<rect x="76.00" y="614.45" width="4.20" height="8.35" fill="#ffd5da" stroke="#d8d8d8" stroke-width="0.3"/>
<rect x="80.20" y="614.45" width="4.20" height="8.35" fill="#b8b8e7" stroke="#d8d8d8" stroke-width="0.3"/>
<rect x="84.40" y="614.45" width="4.20" height="8.35" fill="#f0effa" stroke="#d8d8d8" stroke-width="0.3"/>
<rect x="88.60" y="614.45" width="4.20" height="8.35" fill="#ffffff" stroke="#d8d8d8" stroke-width="0.3"/>
<rect x="92.80" y="614.45" width="4.20" height="8.35" fill="#ffd5da" stroke="#d8d8d8" stroke-width="0.3"/>
<rect x="97.00" y="614.45" width="4.20" height="8.35" fill="#ffe5e9" stroke="#d8d8d8" stroke-width="0.3"/>
<rect x="101.20" y="614.45" width="4.20" height="8.35" fill="#ffffff" stroke="#d8d8d8" stroke-width="0.3"/>
<rect x="105.40" y="614.45" width="4.20" height="8.35" fill="#ffffff" stroke="#d8d8d8" stroke-width="0.3"/>
<rect x="109.60" y="614.45" width="4.20" height="8.35" fill="#b8b8e7" stroke="#d8d8d8" stroke-width="0.3"/>
<rect x="113.80" y="614.45" width="4.20" height="8.35" fill="#b8b8e7" stroke="#d8d8d8" stroke-width="0.3"/>
<rect x="118.00" y="614.45" width="4.20" height="8.35" fill="#fb8992" stroke="#d8d8d8" stroke-width="0.3"/>
<rect x="122.20" y="614.45" width="4.20" height="8.35" fill="#fa7983" stroke="#d8d8d8" stroke-width="0.3"/>
<rect x="126.40" y="614.45" width="4.20" height="8.35" fill="#fb8992" stroke="#d8d8d8" stroke-width="0.3"/>
<rect x="130.60" y="614.45" width="4.20" height="8.35" fill="#5669b8" stroke="#d8d8d8" stroke-width="0.3"/>
<rect x="134.80" y="614.45" width="4.20" height="8.35" fill="#fb8992" stroke="#d8d8d8" stroke-width="0.3"/>
<rect x="139.00" y="614.45" width="4.20" height="8.35" fill="#fb8992" stroke="#d8d8d8" stroke-width="0.3"/>
<rect x="143.20" y="614.45" width="4.20" height="8.35" fill="#febfc4" stroke="#d8d8d8" stroke-width="0.3"/>
<rect x="147.40" y="614.45" width="4.20" height="8.35" fill="#feb2b8" stroke="#d8d8d8" stroke-width="0.3"/>
<rect x="151.60" y="614.45" width="4.20" height="8.35" fill="#ffd5da" stroke="#d8d8d8" stroke-width="0.3"/>
<rect x="155.80" y="614.45" width="4.20" height="8.35" fill="#f0effa" stroke="#d8d8d8" stroke-width="0.3"/>
<rect x="160.00" y="614.45" width="4.20" height="8.35" fill="#ffeff1" stroke="#d8d8d8" stroke-width="0.3"/>
<rect x="164.20" y="614.45" width="4.20" height="8.35" fill="#feb8be" stroke="#d8d8d8" stroke-width="0.3"/>
<rect x="168.40" y="614.45" width="4.20" height="8.35" fill="#ffffff" stroke="#d8d8d8" stroke-width="0.3"/>
<rect x="172.60" y="614.45" width="4.20" height="8.35" fill="#fa7983" stroke="#d8d8d8" stroke-width="0.3"/>
<rect x="176.80" y="614.45" width="4.20" height="8.35" fill="#feb8be" stroke="#d8d8d8" stroke-width="0.3"/>
<rect x="181.00" y="614.45" width="4.20" height="8.35" fill="#ffffff" stroke="#d8d8d8" stroke-width="0.3"/>
<rect x="185.20" y="614.45" width="4.20" height="8.35" fill="#ffffff" stroke="#d8d8d8" stroke-width="0.3"/>
<rect x="189.40" y="614.45" width="4.20" height="8.35" fill="#ffd5da" stroke="#d8d8d8" stroke-width="0.3"/>
<rect x="193.60" y="614.45" width="4.20" height="8.35" fill="#ffdee2" stroke="#d8d8d8" stroke-width="0.3"/>
<rect x="197.80" y="614.45" width="4.20" height="8.35" fill="#ffffff" stroke="#d8d8d8" stroke-width="0.3"/>
<rect x="202.00" y="614.45" width="4.20" height="8.35" fill="#ffd1d5" stroke="#d8d8d8" stroke-width="0.3"/>
<rect x="206.20" y="614.45" width="4.20" height="8.35" fill="#cdccef" stroke="#d8d8d8" stroke-width="0.3"/>
<rect x="210.40" y="614.45" width="4.20" height="8.35" fill="#ececf9" stroke="#d8d8d8" stroke-width="0.3"/>
<rect x="214.60" y="614.45" width="4.20" height="8.35" fill="#febfc4" stroke="#d8d8d8" stroke-width="0.3"/>
<rect x="218.80" y="614.45" width="4.20" height="8.35" fill="#f0effa" stroke="#d8d8d8" stroke-width="0.3"/>
<rect x="223.00" y="614.45" width="4.20" height="8.35" fill="#ffffff" stroke="#d8d8d8" stroke-width="0.3"/>
<rect x="227.20" y="614.45" width="4.20" height="8.35" fill="#feb8be" stroke="#d8d8d8" stroke-width="0.3"/>
<rect x="231.40" y="614.45" width="4.20" height="8.35" fill="#ffffff" stroke="#d8d8d8" stroke-width="0.3"/>
<rect x="235.60" y="614.45" width="4.20" height="8.35" fill="#fb8089" stroke="#d8d8d8" stroke-width="0.3"/>
<rect x="239.80" y="614.45" width="4.20" height="8.35" fill="#f0effa" stroke="#d8d8d8" stroke-width="0.3"/>
<rect x="244.00" y="614.45" width="4.20" height="8.35" fill="#febfc4" stroke="#d8d8d8" stroke-width="0.3"/>
<rect x="248.20" y="614.45" width="4.20" height="8.35" fill="#dad8f3" stroke="#d8d8d8" stroke-width="0.3"/>
<rect x="252.40" y="614.45" width="4.20" height="8.35" fill="#fb8089" stroke="#d8d8d8" stroke-width="0.3"/>
<rect x="256.60" y="614.45" width="4.20" height="8.35" fill="#f0effa" stroke="#d8d8d8" stroke-width="0.3"/>
<rect x="260.80" y="614.45" width="4.20" height="8.35" fill="#b8b8e7" stroke="#d8d8d8" stroke-width="0.3"/>
<rect x="265.00" y="614.45" width="4.20" height="8.35" fill="#ffe5e9" stroke="#d8d8d8" stroke-width="0.3"/>
<rect x="269.20" y="614.45" width="4.20" height="8.35" fill="#fc99a1" stroke="#d8d8d8" stroke-width="0.3"/>
<rect x="273.40" y="614.45" width="4.20" height="8.35" fill="#ffffff" stroke="#d8d8d8" stroke-width="0.3"/>
<rect x="277.60" y="614.45" width="4.20" height="8.35" fill="#feb8be" stroke="#d8d8d8" stroke-width="0.3"/>
<rect x="281.80" y="614.45" width="4.20" height="8.35" fill="#e6453c" stroke="#d8d8d8" stroke-width="0.3"/>
<rect x="286.00" y="614.45" width="4.20" height="8.35" fill="#ee5755" stroke="#d8d8d8" stroke-width="0.3"/>
<rect x="290.20" y="614.45" width="4.20" height="8.35" fill="#c1c0ea" stroke="#d8d8d8" stroke-width="0.3"/>
<rect x="294.40" y="614.45" width="4.20" height="8.35" fill="#fc99a1" stroke="#d8d8d8" stroke-width="0.3"/>
<rect x="298.60" y="614.45" width="4.20" height="8.35" fill="#8c8fd3" stroke="#d8d8d8" stroke-width="0.3"/>
<rect x="302.80" y="614.45" width="4.20" height="8.35" fill="#ffecee" stroke="#d8d8d8" stroke-width="0.3"/>
<rect x="307.00" y="614.45" width="4.20" height="8.35" fill="#ffe5e9" stroke="#d8d8d8" stroke-width="0.3"/>
<rect x="311.20" y="614.45" width="4.20" height="8.35" fill="#c1c0ea" stroke="#d8d8d8" stroke-width="0.3"/>
<rect x="315.40" y="614.45" width="4.20" height="8.35" fill="#dad8f3" stroke="#d8d8d8" stroke-width="0.3"/>
<rect x="319.60" y="614.45" width="4.20" height="8.35" fill="#fb8992" stroke="#d8d8d8" stroke-width="0.3"/>
<rect x="323.80" y="614.45" width="4.20" height="8.35" fill="#5669b8" stroke="#d8d8d8" stroke-width="0.3"/>
<rect x="328.00" y="614.45" width="4.20" height="8.35" fill="#fb8992" stroke="#d8d8d8" stroke-width="0.3"/>
<rect x="332.20" y="614.45" width="4.20" height="8.35" fill="#a0a1dd" stroke="#d8d8d8" stroke-width="0.3"/>
<rect x="336.40" y="614.45" width="4.20" height="8.35" fill="#6876c1" stroke="#d8d8d8" stroke-width="0.3"/>
<text x="342" y="613.1" font-size="7.8" fill="#1a1a1a" font-family="Liberation Sans">NFKB1</text>
<text x="342" y="621.4" font-size="7.8" fill="#1a1a1a" font-family="Liberation Sans">SMARCC1</text>
<text x="311.3" y="633.2" font-size="7.7" text-anchor="middle" fill="#222" font-family="Liberation Sans">z score</text>
<defs><linearGradient id="ghb" x1="0" x2="1"><stop offset="0" stop-color="#3550a8"/><stop offset="0.5" stop-color="#9a9cd6"/><stop offset="1" stop-color="#ebebf8"/></linearGradient><linearGradient id="ghr" x1="0" x2="1"><stop offset="0" stop-color="#fff0f2"/><stop offset="0.5" stop-color="#f7909a"/><stop offset="1" stop-color="#de3428"/></linearGradient></defs>
<rect x="279.9" y="637.1" width="29.8" height="6.5" fill="url(#ghb)"/>
<rect x="315" y="637.1" width="25.7" height="6.5" fill="url(#ghr)"/>
<text transform="translate(278.1,646) rotate(90)" font-size="8.4" fill="#222" font-family="Liberation Sans">-0.6</text>
<text transform="translate(292.1,646) rotate(90)" font-size="8.4" fill="#222" font-family="Liberation Sans">-0.3</text>
<text transform="translate(302.6,646) rotate(90)" font-size="8.4" fill="#222" font-family="Liberation Sans">-0.1</text>
<text transform="translate(311.4,646) rotate(90)" font-size="8.4" fill="#222" font-family="Liberation Sans">0.1</text>
<text transform="translate(321.9,646) rotate(90)" font-size="8.4" fill="#222" font-family="Liberation Sans">0.3</text>
<text transform="translate(338.2,646) rotate(90)" font-size="8.4" fill="#222" font-family="Liberation Sans">0.6</text>
<text x="409.5" y="498.9" font-size="10.05" fill="#1a1a1a" font-family="Liberation Sans">SMARCC1 subtype</text>
<text x="432.8" y="508.9" font-size="10.05" fill="#1a1a1a" font-family="Liberation Sans">p=0.0006</text>
<path d="M421.4,521.70 V610.70" fill="none" stroke="#444" stroke-width="0.9"/>
<path d="M417.59999999999997,610.70 H480.7" fill="none" stroke="#8c8c8c" stroke-width="1.4"/>
<text x="415.79999999999995" y="525.30" font-size="10.2" text-anchor="end" fill="#222" font-family="Liberation Sans">1.0</text>
<text x="415.79999999999995" y="547.55" font-size="10.2" text-anchor="end" fill="#222" font-family="Liberation Sans">0.5</text>
<text x="415.79999999999995" y="569.80" font-size="10.2" text-anchor="end" fill="#222" font-family="Liberation Sans">0.0</text>
<text x="415.79999999999995" y="592.05" font-size="10.2" text-anchor="end" fill="#222" font-family="Liberation Sans">-0.5</text>
<text x="415.79999999999995" y="614.30" font-size="10.2" text-anchor="end" fill="#222" font-family="Liberation Sans">-1.0</text>
<path d="M417.59999999999997,521.70 H421.4 M417.59999999999997,543.95 H421.4 M417.59999999999997,566.20 H421.4 M417.59999999999997,588.45 H421.4 M417.59999999999997,610.70 H421.4 M438.4,610.70 V612.90 M463.5,610.70 V612.90" stroke="#444" stroke-width="0.9"/>
<path d="M422.9,566.2 H480.7" stroke="#222" stroke-width="0.95" stroke-dasharray="0.9,1.5"/>
<path d="M438.4,561.1 V564.6 M438.4,571.5 V581.4 M434.0,561.1 H442.79999999999995 M434.0,581.4 H442.79999999999995" stroke="#333" stroke-width="0.9"/>
<rect x="430.29999999999995" y="564.6" width="16.2" height="6.90" fill="#e8464b" stroke="#333" stroke-width="0.9"/>
<path d="M430.29999999999995,568.5 H446.5" stroke="#333" stroke-width="0.9"/>
<path d="M463.5,535.7 V551.3 M463.5,567.6 V586.3 M459.1,535.7 H467.9 M459.1,586.3 H467.9" stroke="#333" stroke-width="0.9"/>
<rect x="455.4" y="551.3" width="16.2" height="16.30" fill="#6a9bd3" stroke="#333" stroke-width="0.9"/>
<path d="M455.4,561.1 H471.6" stroke="#333" stroke-width="0.9"/>
<text transform="translate(444.8,620.7) rotate(-45)" font-size="10.0" text-anchor="end" fill="#1a1a1a" font-family="Liberation Sans">NFKB1</text>
<text transform="translate(473.8,619.5) rotate(-45)" font-size="10.0" text-anchor="end" fill="#1a1a1a" font-family="Liberation Sans">SMARCC1</text>
<text transform="translate(393.8,558.8) rotate(-90)" font-size="9.7" text-anchor="middle" fill="#222" font-family="Liberation Sans" textLength="88" lengthAdjust="spacingAndGlyphs">Log10(T/NAT ratio)</text>
<text x="546.6" y="496.6" font-size="10.05" fill="#1a1a1a" font-family="Liberation Sans">NFKB1 subtype</text>
<text x="569.9" y="506.6" font-size="10.05" fill="#1a1a1a" font-family="Liberation Sans">p=0.0025</text>
<path d="M558.2,521.70 V610.70" fill="none" stroke="#444" stroke-width="0.9"/>
<path d="M554.4000000000001,610.70 H618.0" fill="none" stroke="#8c8c8c" stroke-width="1.4"/>
<text x="552.6" y="525.30" font-size="10.2" text-anchor="end" fill="#222" font-family="Liberation Sans">1.0</text>
<text x="552.6" y="547.55" font-size="10.2" text-anchor="end" fill="#222" font-family="Liberation Sans">0.5</text>
<text x="552.6" y="569.80" font-size="10.2" text-anchor="end" fill="#222" font-family="Liberation Sans">0.0</text>
<text x="552.6" y="592.05" font-size="10.2" text-anchor="end" fill="#222" font-family="Liberation Sans">-0.5</text>
<text x="552.6" y="614.30" font-size="10.2" text-anchor="end" fill="#222" font-family="Liberation Sans">-1.0</text>
<path d="M554.4000000000001,521.70 H558.2 M554.4000000000001,543.95 H558.2 M554.4000000000001,566.20 H558.2 M554.4000000000001,588.45 H558.2 M554.4000000000001,610.70 H558.2 M575.3,610.70 V612.90 M600.7,610.70 V612.90" stroke="#444" stroke-width="0.9"/>
<path d="M559.7,566.2 H618.0" stroke="#222" stroke-width="0.95" stroke-dasharray="0.9,1.5"/>
<path d="M575.3,540.1 V549.7 M575.3,556.6 V560.2 M570.9,540.1 H579.6999999999999 M570.9,560.2 H579.6999999999999" stroke="#333" stroke-width="0.9"/>
<rect x="567.1999999999999" y="549.7" width="16.2" height="6.90" fill="#e8464b" stroke="#333" stroke-width="0.9"/>
<path d="M567.1999999999999,553.6 H583.4" stroke="#333" stroke-width="0.9"/>
<path d="M600.7,537.5 V553.2 M600.7,572.3 V582.4 M596.3000000000001,537.5 H605.1 M596.3000000000001,582.4 H605.1" stroke="#333" stroke-width="0.9"/>
<rect x="592.6" y="553.2" width="16.2" height="19.10" fill="#6a9bd3" stroke="#333" stroke-width="0.9"/>
<path d="M592.6,562 H608.8000000000001" stroke="#333" stroke-width="0.9"/>
<text transform="translate(583.7,618.9) rotate(-45)" font-size="10.0" text-anchor="end" fill="#1a1a1a" font-family="Liberation Sans">NFKB1</text>
<text transform="translate(613.2,618.5) rotate(-45)" font-size="10.0" text-anchor="end" fill="#1a1a1a" font-family="Liberation Sans">SMARCC1</text>
<text transform="translate(529.4,558.8) rotate(-90)" font-size="9.7" text-anchor="middle" fill="#222" font-family="Liberation Sans" textLength="88" lengthAdjust="spacingAndGlyphs">Log10(T/NAT ratio)</text>
<text x="2.7" y="13.9" font-size="19" fill="#111" style="stroke:none" font-family="Liberation Sans">a</text>
<text x="244.9" y="14.0" font-size="19" fill="#111" style="stroke:none" font-family="Liberation Sans">b</text>
<text x="245.0" y="112.0" font-size="19" fill="#111" style="stroke:none" font-family="Liberation Sans">c</text>
<text x="450.5" y="13.9" font-size="19" fill="#111" style="stroke:none" font-family="Liberation Sans">d</text>
<text x="2.8" y="275.6" font-size="19" fill="#111" style="stroke:none" font-family="Liberation Sans">e</text>
<text x="181.5" y="275.6" font-size="19" fill="#111" style="stroke:none" font-family="Liberation Sans">f</text>
<text x="450.8" y="275.4" font-size="19" fill="#111" style="stroke:none" font-family="Liberation Sans">g</text>
<text x="3.2" y="493.4" font-size="19" fill="#111" style="stroke:none" font-family="Liberation Sans">h</text>
<text x="378.1" y="493.2" font-size="19" fill="#111" style="stroke:none" font-family="Liberation Sans">i</text>
</svg></body></html>
